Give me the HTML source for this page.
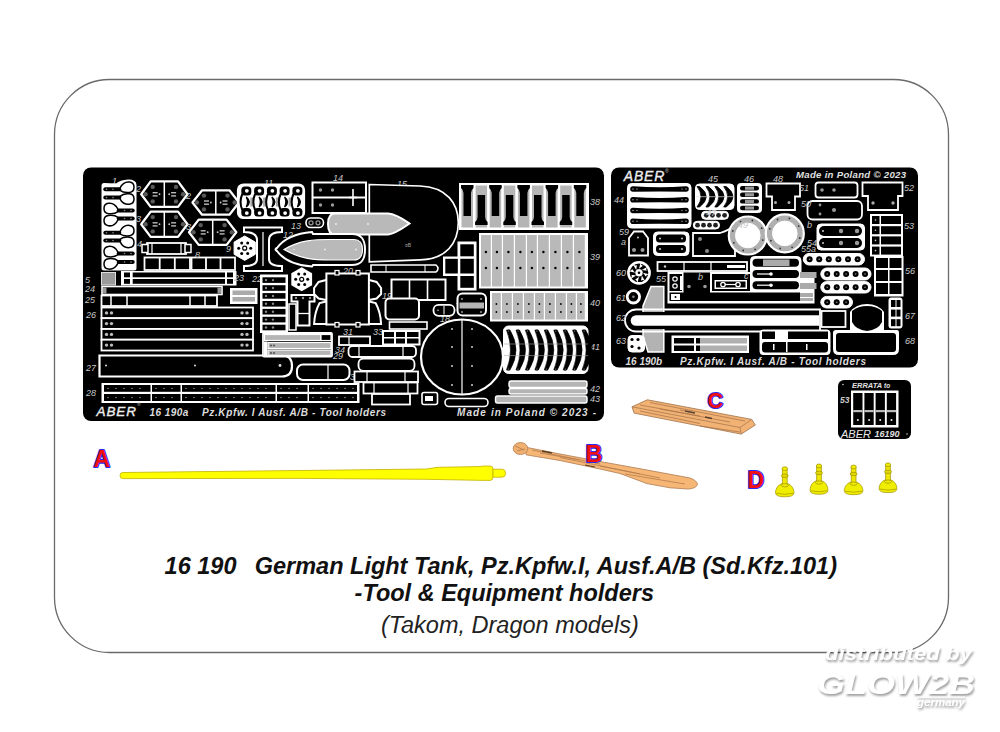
<!DOCTYPE html>
<html><head><meta charset="utf-8">
<style>
html,body{margin:0;padding:0;background:#fff;width:1000px;height:732px;overflow:hidden}
svg{display:block;font-family:"Liberation Sans",sans-serif}
</style></head><body>
<svg width="1000" height="732" viewBox="0 0 1000 732">
<rect width="1000" height="732" fill="#fff"/>
<rect x="54.5" y="79.5" width="894" height="573" rx="55" ry="55" fill="none" stroke="#6a6a6a" stroke-width="1.3"/>
<g id="lp">
<rect x="83" y="167.5" width="521" height="253.5" rx="8" fill="#000"/>
<path d="M104,183 Q101.5,183 101.5,186 L101.5,268 Q101.5,270.5 104,270.5 L134,270.5 Q136.5,270.5 136.5,268 L136.5,185 Q136.5,179.5 128,179.5 Q120,180 116,183.5 Z" fill="#fff"/>
<path d="M120,188.0 C123,181.7 127,181.7 129.5,182.0 C135.5,182.7 135.5,191.7 129.5,192.4 C127,192.7 123,192.7 120,190.4" fill="#fff" stroke="#000" stroke-width="1.5"/>
<rect x="103.3" y="187.2" width="18" height="4" rx="2" fill="#000"/>
<circle cx="106.5" cy="189.2" r="0.8" fill="#888"/><circle cx="113.0" cy="189.2" r="0.8" fill="#888"/>
<path d="M120,196.4 C123,193.5 127,193.5 129.5,193.8 C135.5,194.5 135.5,203.5 129.5,204.2 C127,204.5 123,204.5 120,198.8" fill="#fff" stroke="#000" stroke-width="1.5"/>
<rect x="103.3" y="195.6" width="18" height="4" rx="2" fill="#000"/>
<circle cx="106.5" cy="197.6" r="0.8" fill="#888"/><circle cx="113.0" cy="197.6" r="0.8" fill="#888"/>
<path d="M118,209.3 C115,203.0 111,203.0 108.5,203.3 C102.5,204.0 102.5,213.0 108.5,213.7 C111,214.0 115,214.0 118,211.7" fill="#fff" stroke="#000" stroke-width="1.5"/>
<rect x="116.7" y="208.5" width="18" height="4" rx="2" fill="#000"/>
<circle cx="124.5" cy="210.5" r="0.8" fill="#888"/><circle cx="131.0" cy="210.5" r="0.8" fill="#888"/>
<path d="M118,217.3 C115,215.1 111,215.1 108.5,215.4 C102.5,216.1 102.5,225.1 108.5,225.8 C111,226.1 115,226.1 118,219.7" fill="#fff" stroke="#000" stroke-width="1.5"/>
<rect x="116.7" y="216.5" width="18" height="4" rx="2" fill="#000"/>
<circle cx="124.5" cy="218.5" r="0.8" fill="#888"/><circle cx="131.0" cy="218.5" r="0.8" fill="#888"/>
<path d="M120,231.6 C123,225.1 127,225.1 129.5,225.4 C135.5,226.1 135.5,235.1 129.5,235.8 C127,236.1 123,236.1 120,234.0" fill="#fff" stroke="#000" stroke-width="1.5"/>
<rect x="103.3" y="230.8" width="18" height="4" rx="2" fill="#000"/>
<circle cx="106.5" cy="232.8" r="0.8" fill="#888"/><circle cx="113.0" cy="232.8" r="0.8" fill="#888"/>
<path d="M120,239.3 C123,236.9 127,236.9 129.5,237.2 C135.5,237.9 135.5,246.9 129.5,247.6 C127,247.9 123,247.9 120,241.7" fill="#fff" stroke="#000" stroke-width="1.5"/>
<rect x="103.3" y="238.5" width="18" height="4" rx="2" fill="#000"/>
<circle cx="106.5" cy="240.5" r="0.8" fill="#888"/><circle cx="113.0" cy="240.5" r="0.8" fill="#888"/>
<path d="M118,252.3 C115,246.1 111,246.1 108.5,246.4 C102.5,247.1 102.5,256.1 108.5,256.8 C111,257.1 115,257.1 118,254.7" fill="#fff" stroke="#000" stroke-width="1.5"/>
<rect x="116.7" y="251.5" width="18" height="4" rx="2" fill="#000"/>
<circle cx="124.5" cy="253.5" r="0.8" fill="#888"/><circle cx="131.0" cy="253.5" r="0.8" fill="#888"/>
<path d="M118,260.8 C115,258.4 111,258.4 108.5,258.7 C102.5,259.4 102.5,268.4 108.5,269.1 C111,269.4 115,269.4 118,263.2" fill="#fff" stroke="#000" stroke-width="1.5"/>
<rect x="116.7" y="260.0" width="18" height="4" rx="2" fill="#000"/>
<circle cx="124.5" cy="262.0" r="0.8" fill="#888"/><circle cx="131.0" cy="262.0" r="0.8" fill="#888"/>
<path d="M141.2,194.2 L150.7,181.4 L178.0,181.4 L187.5,194.2 L178.0,206.9 L150.7,206.9 Z" fill="#000" stroke="#fff" stroke-width="2.3" stroke-linejoin="round"/><line x1="164.3" y1="181.3" x2="164.3" y2="207.0" stroke="#fff" stroke-width="1.5"/><circle cx="152.7" cy="186.9" r="2.2" fill="#5a5a5a"/><circle cx="152.7" cy="201.4" r="2.2" fill="#5a5a5a"/><circle cx="145.6" cy="194.2" r="2.2" fill="#5a5a5a"/><rect x="152.6" y="192.0" width="5" height="1.4" fill="#bbb"/><rect x="152.6" y="195.2" width="5" height="1.4" fill="#bbb"/><circle cx="159.5" cy="194.2" r="0.9" fill="#ccc"/><circle cx="176.0" cy="186.9" r="2.2" fill="#5a5a5a"/><circle cx="176.0" cy="201.4" r="2.2" fill="#5a5a5a"/><circle cx="183.1" cy="194.2" r="2.2" fill="#5a5a5a"/><rect x="171.1" y="192.0" width="5" height="1.4" fill="#bbb"/><rect x="171.1" y="195.2" width="5" height="1.4" fill="#bbb"/><circle cx="169.2" cy="194.2" r="0.9" fill="#ccc"/>
<path d="M192.5,202.5 L202.1,190.3 L229.4,190.3 L239.0,202.5 L229.4,214.7 L202.1,214.7 Z" fill="#000" stroke="#fff" stroke-width="2.3" stroke-linejoin="round"/><line x1="215.8" y1="190.2" x2="215.8" y2="214.8" stroke="#fff" stroke-width="1.5"/><circle cx="204.0" cy="195.6" r="2.2" fill="#5a5a5a"/><circle cx="204.0" cy="209.4" r="2.2" fill="#5a5a5a"/><circle cx="196.9" cy="202.5" r="2.2" fill="#5a5a5a"/><rect x="204.0" y="200.3" width="5" height="1.4" fill="#bbb"/><rect x="204.0" y="203.5" width="5" height="1.4" fill="#bbb"/><circle cx="210.9" cy="202.5" r="0.9" fill="#ccc"/><circle cx="227.5" cy="195.6" r="2.2" fill="#5a5a5a"/><circle cx="227.5" cy="209.4" r="2.2" fill="#5a5a5a"/><circle cx="234.6" cy="202.5" r="2.2" fill="#5a5a5a"/><rect x="222.5" y="200.3" width="5" height="1.4" fill="#bbb"/><rect x="222.5" y="203.5" width="5" height="1.4" fill="#bbb"/><circle cx="220.6" cy="202.5" r="0.9" fill="#ccc"/>
<path d="M141.2,224.2 L150.7,211.6 L178.0,211.6 L187.5,224.2 L178.0,236.9 L150.7,236.9 Z" fill="#000" stroke="#fff" stroke-width="2.3" stroke-linejoin="round"/><line x1="164.3" y1="211.5" x2="164.3" y2="237.0" stroke="#fff" stroke-width="1.5"/><circle cx="152.7" cy="217.1" r="2.2" fill="#5a5a5a"/><circle cx="152.7" cy="231.4" r="2.2" fill="#5a5a5a"/><circle cx="145.6" cy="224.2" r="2.2" fill="#5a5a5a"/><rect x="152.6" y="222.1" width="5" height="1.4" fill="#bbb"/><rect x="152.6" y="225.2" width="5" height="1.4" fill="#bbb"/><circle cx="159.5" cy="224.2" r="0.9" fill="#ccc"/><circle cx="176.0" cy="217.1" r="2.2" fill="#5a5a5a"/><circle cx="176.0" cy="231.4" r="2.2" fill="#5a5a5a"/><circle cx="183.1" cy="224.2" r="2.2" fill="#5a5a5a"/><rect x="171.1" y="222.1" width="5" height="1.4" fill="#bbb"/><rect x="171.1" y="225.2" width="5" height="1.4" fill="#bbb"/><circle cx="169.2" cy="224.2" r="0.9" fill="#ccc"/>
<path d="M189.0,232.2 L198.7,219.6 L226.6,219.6 L236.3,232.2 L226.6,244.9 L198.7,244.9 Z" fill="#000" stroke="#fff" stroke-width="2.3" stroke-linejoin="round"/><line x1="212.7" y1="219.5" x2="212.7" y2="245.0" stroke="#fff" stroke-width="1.5"/><circle cx="200.7" cy="225.1" r="2.2" fill="#5a5a5a"/><circle cx="200.7" cy="239.4" r="2.2" fill="#5a5a5a"/><circle cx="193.5" cy="232.2" r="2.2" fill="#5a5a5a"/><rect x="200.7" y="230.1" width="5" height="1.4" fill="#bbb"/><rect x="200.7" y="233.2" width="5" height="1.4" fill="#bbb"/><circle cx="207.7" cy="232.2" r="0.9" fill="#ccc"/><circle cx="224.6" cy="225.1" r="2.2" fill="#5a5a5a"/><circle cx="224.6" cy="239.4" r="2.2" fill="#5a5a5a"/><circle cx="231.8" cy="232.2" r="2.2" fill="#5a5a5a"/><rect x="219.6" y="230.1" width="5" height="1.4" fill="#bbb"/><rect x="219.6" y="233.2" width="5" height="1.4" fill="#bbb"/><circle cx="217.6" cy="232.2" r="0.9" fill="#ccc"/>
<rect x="147.0" y="243.0" width="39.0" height="11.0" rx="0" fill="#000" stroke="#fff" stroke-width="1.8"/>
<rect x="142.0" y="244.5" width="6.0" height="8.0" rx="0" fill="#000" stroke="#fff" stroke-width="1.5"/><rect x="185.0" y="244.5" width="6.0" height="8.0" rx="0" fill="#000" stroke="#fff" stroke-width="1.5"/>
<line x1="152" y1="243" x2="152" y2="254" stroke="#fff" stroke-width="1.2"/><line x1="181" y1="243" x2="181" y2="254" stroke="#fff" stroke-width="1.2"/>
<rect x="144.5" y="257.5" width="45.5" height="12.5" rx="0" fill="#000" stroke="#fff" stroke-width="1.8"/>
<line x1="159.7" y1="257.5" x2="159.7" y2="270" stroke="#fff" stroke-width="1.8"/>
<line x1="174.8" y1="257.5" x2="174.8" y2="270" stroke="#fff" stroke-width="1.8"/>
<rect x="191.5" y="257.5" width="43.5" height="12.5" rx="0" fill="#000" stroke="#fff" stroke-width="1.8"/>
<line x1="206.0" y1="257.5" x2="206.0" y2="270" stroke="#fff" stroke-width="1.8"/>
<line x1="220.5" y1="257.5" x2="220.5" y2="270" stroke="#fff" stroke-width="1.8"/>
<rect x="121.5" y="271.5" width="114.5" height="13.5" rx="0" fill="#fff" stroke="#fff" stroke-width="1"/>
<rect x="124.0" y="272.5" width="6.0" height="4.8" rx="0" fill="#000" stroke="none" stroke-width="1.8"/><rect x="132.7" y="272.5" width="92.3" height="4.8" rx="0" fill="#000" stroke="none" stroke-width="1.8"/><rect x="227.0" y="272.5" width="6.0" height="4.8" rx="0" fill="#000" stroke="none" stroke-width="1.8"/>
<rect x="124.0" y="279.0" width="6.0" height="4.8" rx="0" fill="#000" stroke="none" stroke-width="1.8"/><rect x="132.7" y="279.0" width="92.3" height="4.8" rx="0" fill="#000" stroke="none" stroke-width="1.8"/><rect x="227.0" y="279.0" width="6.0" height="4.8" rx="0" fill="#000" stroke="none" stroke-width="1.8"/>
<rect x="101.5" y="272.5" width="14.0" height="12.5" rx="0" fill="#9a9a9a" stroke="#ddd" stroke-width="1"/>
<rect x="102.0" y="286.5" width="120.0" height="8.0" rx="0" fill="#000" stroke="#fff" stroke-width="1.6"/>
<rect x="103.0" y="287.5" width="3.5" height="6.0" rx="0" fill="#999" stroke="none" stroke-width="1.8"/><rect x="217.5" y="287.5" width="3.5" height="6.0" rx="0" fill="#999" stroke="none" stroke-width="1.8"/>
<rect x="230.5" y="288.5" width="26.5" height="15.0" rx="0" fill="#fff" stroke="#fff" stroke-width="1"/>
<rect x="232.5" y="290.5" width="22.5" height="4.5" rx="0" fill="#aaa" stroke="none" stroke-width="1.8"/><rect x="232.5" y="297.0" width="22.5" height="4.5" rx="0" fill="#aaa" stroke="none" stroke-width="1.8"/>
<rect x="101.5" y="295.5" width="115.5" height="10.5" rx="0" fill="#000" stroke="#fff" stroke-width="1.8"/>
<line x1="111" y1="296" x2="111" y2="306" stroke="#fff" stroke-width="1.5"/>
<line x1="127" y1="296" x2="127" y2="306" stroke="#fff" stroke-width="1.5"/>
<line x1="190" y1="296" x2="190" y2="306" stroke="#fff" stroke-width="1.5"/>
<line x1="205" y1="296" x2="205" y2="306" stroke="#fff" stroke-width="1.5"/>
<rect x="101.5" y="307.5" width="151.5" height="10.7" rx="0" fill="#000" stroke="#fff" stroke-width="1.8"/>
<circle cx="106.5" cy="312.9" r="1.7" fill="#bbb"/><circle cx="111.5" cy="312.9" r="1.7" fill="#bbb"/><circle cx="242.0" cy="312.9" r="1.7" fill="#bbb"/><circle cx="247.0" cy="312.9" r="1.7" fill="#bbb"/>
<rect x="101.5" y="318.2" width="151.5" height="10.8" rx="0" fill="#000" stroke="#fff" stroke-width="1.8"/>
<circle cx="106.5" cy="323.6" r="1.7" fill="#bbb"/><circle cx="111.5" cy="323.6" r="1.7" fill="#bbb"/><circle cx="242.0" cy="323.6" r="1.7" fill="#bbb"/><circle cx="247.0" cy="323.6" r="1.7" fill="#bbb"/>
<rect x="101.5" y="329.0" width="151.5" height="10.7" rx="0" fill="#000" stroke="#fff" stroke-width="1.8"/>
<circle cx="106.5" cy="334.4" r="1.7" fill="#bbb"/><circle cx="111.5" cy="334.4" r="1.7" fill="#bbb"/><circle cx="242.0" cy="334.4" r="1.7" fill="#bbb"/><circle cx="247.0" cy="334.4" r="1.7" fill="#bbb"/>
<rect x="101.5" y="339.7" width="151.5" height="10.8" rx="0" fill="#000" stroke="#fff" stroke-width="1.8"/>
<circle cx="106.5" cy="345.1" r="1.7" fill="#bbb"/><circle cx="111.5" cy="345.1" r="1.7" fill="#bbb"/><circle cx="242.0" cy="345.1" r="1.7" fill="#bbb"/><circle cx="247.0" cy="345.1" r="1.7" fill="#bbb"/>
<path d="M99.5,355.5 L282,355.5 Q292,355.5 292,366 Q292,376.5 282,376.5 L99.5,376.5 Z" fill="#000" stroke="#fff" stroke-width="2.2"/>
<circle cx="106.0" cy="365.5" r="1" fill="#ddd"/><circle cx="195.0" cy="365.5" r="1" fill="#ddd"/><circle cx="280.0" cy="365.5" r="1.4" fill="#ddd"/>
<rect x="102.0" y="383.5" width="257.0" height="19.0" rx="0" fill="#fff" stroke="#fff" stroke-width="1"/>
<rect x="104.0" y="385.0" width="46.5" height="6.8" rx="0" fill="#000" stroke="none" stroke-width="1.8"/>
<circle cx="108.0" cy="388.4" r="0.7" fill="#aaa"/>
<circle cx="116.0" cy="388.4" r="0.7" fill="#aaa"/>
<circle cx="124.0" cy="388.4" r="0.7" fill="#aaa"/>
<circle cx="132.0" cy="388.4" r="0.7" fill="#aaa"/>
<circle cx="140.0" cy="388.4" r="0.7" fill="#aaa"/>
<rect x="152.0" y="385.0" width="28.5" height="6.8" rx="0" fill="#000" stroke="none" stroke-width="1.8"/>
<circle cx="156.0" cy="388.4" r="0.7" fill="#aaa"/>
<circle cx="164.0" cy="388.4" r="0.7" fill="#aaa"/>
<circle cx="172.0" cy="388.4" r="0.7" fill="#aaa"/>
<rect x="182.0" y="385.0" width="93.5" height="6.8" rx="0" fill="#000" stroke="none" stroke-width="1.8"/>
<circle cx="186.0" cy="388.4" r="0.7" fill="#aaa"/>
<circle cx="194.0" cy="388.4" r="0.7" fill="#aaa"/>
<circle cx="202.0" cy="388.4" r="0.7" fill="#aaa"/>
<circle cx="210.0" cy="388.4" r="0.7" fill="#aaa"/>
<circle cx="218.0" cy="388.4" r="0.7" fill="#aaa"/>
<circle cx="226.0" cy="388.4" r="0.7" fill="#aaa"/>
<circle cx="234.0" cy="388.4" r="0.7" fill="#aaa"/>
<circle cx="242.0" cy="388.4" r="0.7" fill="#aaa"/>
<circle cx="250.0" cy="388.4" r="0.7" fill="#aaa"/>
<circle cx="258.0" cy="388.4" r="0.7" fill="#aaa"/>
<circle cx="266.0" cy="388.4" r="0.7" fill="#aaa"/>
<rect x="277.0" y="385.0" width="30.5" height="6.8" rx="0" fill="#000" stroke="none" stroke-width="1.8"/>
<circle cx="281.0" cy="388.4" r="0.7" fill="#aaa"/>
<circle cx="289.0" cy="388.4" r="0.7" fill="#aaa"/>
<circle cx="297.0" cy="388.4" r="0.7" fill="#aaa"/>
<rect x="309.0" y="385.0" width="48.0" height="6.8" rx="0" fill="#000" stroke="none" stroke-width="1.8"/>
<circle cx="313.0" cy="388.4" r="0.7" fill="#aaa"/>
<circle cx="321.0" cy="388.4" r="0.7" fill="#aaa"/>
<circle cx="329.0" cy="388.4" r="0.7" fill="#aaa"/>
<circle cx="337.0" cy="388.4" r="0.7" fill="#aaa"/>
<circle cx="345.0" cy="388.4" r="0.7" fill="#aaa"/>
<circle cx="353.0" cy="388.4" r="0.7" fill="#aaa"/>
<rect x="104.0" y="394.0" width="46.5" height="7.0" rx="0" fill="#000" stroke="none" stroke-width="1.8"/>
<circle cx="108.0" cy="397.5" r="0.7" fill="#aaa"/>
<circle cx="116.0" cy="397.5" r="0.7" fill="#aaa"/>
<circle cx="124.0" cy="397.5" r="0.7" fill="#aaa"/>
<circle cx="132.0" cy="397.5" r="0.7" fill="#aaa"/>
<circle cx="140.0" cy="397.5" r="0.7" fill="#aaa"/>
<rect x="152.0" y="394.0" width="28.5" height="7.0" rx="0" fill="#000" stroke="none" stroke-width="1.8"/>
<circle cx="156.0" cy="397.5" r="0.7" fill="#aaa"/>
<circle cx="164.0" cy="397.5" r="0.7" fill="#aaa"/>
<circle cx="172.0" cy="397.5" r="0.7" fill="#aaa"/>
<rect x="182.0" y="394.0" width="93.5" height="7.0" rx="0" fill="#000" stroke="none" stroke-width="1.8"/>
<circle cx="186.0" cy="397.5" r="0.7" fill="#aaa"/>
<circle cx="194.0" cy="397.5" r="0.7" fill="#aaa"/>
<circle cx="202.0" cy="397.5" r="0.7" fill="#aaa"/>
<circle cx="210.0" cy="397.5" r="0.7" fill="#aaa"/>
<circle cx="218.0" cy="397.5" r="0.7" fill="#aaa"/>
<circle cx="226.0" cy="397.5" r="0.7" fill="#aaa"/>
<circle cx="234.0" cy="397.5" r="0.7" fill="#aaa"/>
<circle cx="242.0" cy="397.5" r="0.7" fill="#aaa"/>
<circle cx="250.0" cy="397.5" r="0.7" fill="#aaa"/>
<circle cx="258.0" cy="397.5" r="0.7" fill="#aaa"/>
<circle cx="266.0" cy="397.5" r="0.7" fill="#aaa"/>
<rect x="277.0" y="394.0" width="30.5" height="7.0" rx="0" fill="#000" stroke="none" stroke-width="1.8"/>
<circle cx="281.0" cy="397.5" r="0.7" fill="#aaa"/>
<circle cx="289.0" cy="397.5" r="0.7" fill="#aaa"/>
<circle cx="297.0" cy="397.5" r="0.7" fill="#aaa"/>
<rect x="309.0" y="394.0" width="48.0" height="7.0" rx="0" fill="#000" stroke="none" stroke-width="1.8"/>
<circle cx="313.0" cy="397.5" r="0.7" fill="#aaa"/>
<circle cx="321.0" cy="397.5" r="0.7" fill="#aaa"/>
<circle cx="329.0" cy="397.5" r="0.7" fill="#aaa"/>
<circle cx="337.0" cy="397.5" r="0.7" fill="#aaa"/>
<circle cx="345.0" cy="397.5" r="0.7" fill="#aaa"/>
<circle cx="353.0" cy="397.5" r="0.7" fill="#aaa"/>
<text x="96.5" y="416.0" font-size="13.5" fill="#eee" text-anchor="start" font-style="italic" stroke="#eee" stroke-width="0.35" textLength="39.5">ABER</text>
<text x="137.0" y="406.0" font-size="5" fill="#ccc" text-anchor="start" >®</text>
<text x="149.4" y="415.5" font-size="10" fill="#ddd" text-anchor="start" font-weight="bold" font-style="italic" textLength="39">16 190a</text>
<text x="202.0" y="415.5" font-size="10" fill="#ddd" text-anchor="start" font-weight="bold" font-style="italic" textLength="184">Pz.Kpfw. I Ausf. A/B - Tool holders</text>
<text x="457.0" y="416.0" font-size="10" fill="#ddd" text-anchor="start" font-weight="bold" font-style="italic" textLength="139">Made in Poland  ©  2023  -</text>
<text x="112.0" y="183.5" font-size="9" fill="#c8c8c8" text-anchor="start" font-style="italic">1</text>
<text x="136.0" y="191.5" font-size="9" fill="#c8c8c8" text-anchor="start" font-style="italic">2</text>
<text x="136.0" y="221.5" font-size="9" fill="#c8c8c8" text-anchor="start" font-style="italic">3</text>
<text x="186.0" y="198.5" font-size="9" fill="#c8c8c8" text-anchor="start" font-style="italic">2</text>
<text x="186.0" y="229.5" font-size="9" fill="#c8c8c8" text-anchor="start" font-style="italic">3</text>
<text x="137.0" y="246.5" font-size="9" fill="#c8c8c8" text-anchor="start" font-style="italic">4</text>
<text x="85.0" y="282.5" font-size="9" fill="#c8c8c8" text-anchor="start" font-style="italic">5</text>
<text x="85.0" y="291.5" font-size="9" fill="#c8c8c8" text-anchor="start" font-style="italic">24</text>
<text x="85.0" y="302.5" font-size="9" fill="#c8c8c8" text-anchor="start" font-style="italic">25</text>
<text x="86.0" y="317.5" font-size="9" fill="#c8c8c8" text-anchor="start" font-style="italic">26</text>
<text x="86.0" y="370.5" font-size="9" fill="#c8c8c8" text-anchor="start" font-style="italic">27</text>
<text x="86.0" y="395.5" font-size="9" fill="#c8c8c8" text-anchor="start" font-style="italic">28</text>
<text x="195.0" y="257.5" font-size="9" fill="#c8c8c8" text-anchor="start" font-style="italic">8</text>
<text x="226.0" y="251.5" font-size="9" fill="#c8c8c8" text-anchor="start" font-style="italic">9</text>
<text x="264.0" y="185.5" font-size="9" fill="#c8c8c8" text-anchor="start" font-style="italic">11</text>
<text x="269.0" y="205.5" font-size="9" fill="#c8c8c8" text-anchor="start" font-style="italic">10</text>
<text x="283.0" y="237.5" font-size="9" fill="#c8c8c8" text-anchor="start" font-style="italic">12</text>
<text x="291.0" y="228.5" font-size="9" fill="#c8c8c8" text-anchor="start" font-style="italic">13</text>
<text x="333.0" y="180.5" font-size="9" fill="#c8c8c8" text-anchor="start" font-style="italic">14</text>
<text x="397.0" y="186.5" font-size="9" fill="#c8c8c8" text-anchor="start" font-style="italic">15</text>
<text x="460.0" y="247.5" font-size="9" fill="#c8c8c8" text-anchor="start" font-style="italic">16</text>
<text x="456.0" y="303.5" font-size="9" fill="#c8c8c8" text-anchor="start" font-style="italic">17</text>
<text x="440.0" y="321.5" font-size="9" fill="#c8c8c8" text-anchor="start" font-style="italic">18</text>
<text x="382.0" y="298.5" font-size="9" fill="#c8c8c8" text-anchor="start" font-style="italic">19</text>
<text x="343.0" y="273.5" font-size="9" fill="#c8c8c8" text-anchor="start" font-style="italic">20</text>
<text x="293.0" y="312.5" font-size="9" fill="#c8c8c8" text-anchor="start" font-style="italic">21</text>
<text x="252.0" y="281.5" font-size="9" fill="#c8c8c8" text-anchor="start" font-style="italic">22</text>
<text x="234.0" y="280.5" font-size="9" fill="#c8c8c8" text-anchor="start" font-style="italic">23</text>
<text x="335.0" y="352.5" font-size="9" fill="#c8c8c8" text-anchor="start" font-style="italic">34</text>
<text x="590.0" y="204.5" font-size="9" fill="#c8c8c8" text-anchor="start" font-style="italic">38</text>
<text x="590.0" y="259.5" font-size="9" fill="#c8c8c8" text-anchor="start" font-style="italic">39</text>
<text x="590.0" y="305.5" font-size="9" fill="#c8c8c8" text-anchor="start" font-style="italic">40</text>
<text x="590.0" y="349.5" font-size="9" fill="#c8c8c8" text-anchor="start" font-style="italic">41</text>
<text x="590.0" y="391.5" font-size="9" fill="#c8c8c8" text-anchor="start" font-style="italic">42</text>
<text x="590.0" y="401.5" font-size="9" fill="#c8c8c8" text-anchor="start" font-style="italic">43</text>
<text x="373.0" y="334.5" font-size="9" fill="#c8c8c8" text-anchor="start" font-style="italic">33</text>
<text x="343.0" y="334.5" font-size="9" fill="#c8c8c8" text-anchor="start" font-style="italic">31</text>
<text x="333.0" y="358.5" font-size="9" fill="#c8c8c8" text-anchor="start" font-style="italic">29</text>
<text x="350.0" y="379.5" font-size="9" fill="#c8c8c8" text-anchor="start" font-style="italic">35</text>
<rect x="237.5" y="184.0" width="67.0" height="34.5" rx="6" fill="#fff" stroke="#fff" stroke-width="1.2"/>
<rect x="241.3" y="186.5" width="10.0" height="9.0" rx="3.5" fill="#000" stroke="none" stroke-width="1.8"/><rect x="241.3" y="208.0" width="10.0" height="8.5" rx="3.5" fill="#000" stroke="none" stroke-width="1.8"/>
<path d="M242.3,194 Q238.8,202 242.3,210" fill="none" stroke="#000" stroke-width="2"/>
<rect x="250.3" y="197.5" width="3.5" height="9.0" rx="0" fill="#a8a8a8" stroke="none" stroke-width="1.8"/>
<path d="M246.3,197 Q252.3,202 246.3,207 Q248.8,202 246.3,197 Z" fill="#000" stroke="#000" stroke-width="1.3"/>
<circle cx="246.8" cy="190.8" r="1.9" fill="#fff"/><circle cx="246.8" cy="213.1" r="1.9" fill="#fff"/>
<rect x="254.1" y="186.5" width="10.0" height="9.0" rx="3.5" fill="#000" stroke="none" stroke-width="1.8"/><rect x="254.1" y="208.0" width="10.0" height="8.5" rx="3.5" fill="#000" stroke="none" stroke-width="1.8"/>
<path d="M255.1,194 Q251.6,202 255.1,210" fill="none" stroke="#000" stroke-width="2"/>
<rect x="263.1" y="197.5" width="3.5" height="9.0" rx="0" fill="#a8a8a8" stroke="none" stroke-width="1.8"/>
<path d="M259.1,197 Q265.1,202 259.1,207 Q261.6,202 259.1,197 Z" fill="#000" stroke="#000" stroke-width="1.3"/>
<circle cx="259.6" cy="190.8" r="1.9" fill="#fff"/><circle cx="259.6" cy="213.1" r="1.9" fill="#fff"/>
<rect x="266.9" y="186.5" width="10.0" height="9.0" rx="3.5" fill="#000" stroke="none" stroke-width="1.8"/><rect x="266.9" y="208.0" width="10.0" height="8.5" rx="3.5" fill="#000" stroke="none" stroke-width="1.8"/>
<path d="M267.9,194 Q264.4,202 267.9,210" fill="none" stroke="#000" stroke-width="2"/>
<rect x="275.9" y="197.5" width="3.5" height="9.0" rx="0" fill="#a8a8a8" stroke="none" stroke-width="1.8"/>
<path d="M271.9,197 Q277.9,202 271.9,207 Q274.4,202 271.9,197 Z" fill="#000" stroke="#000" stroke-width="1.3"/>
<circle cx="272.4" cy="190.8" r="1.9" fill="#fff"/><circle cx="272.4" cy="213.1" r="1.9" fill="#fff"/>
<rect x="279.6" y="186.5" width="10.0" height="9.0" rx="3.5" fill="#000" stroke="none" stroke-width="1.8"/><rect x="279.6" y="208.0" width="10.0" height="8.5" rx="3.5" fill="#000" stroke="none" stroke-width="1.8"/>
<path d="M280.6,194 Q277.1,202 280.6,210" fill="none" stroke="#000" stroke-width="2"/>
<rect x="288.6" y="197.5" width="3.5" height="9.0" rx="0" fill="#a8a8a8" stroke="none" stroke-width="1.8"/>
<path d="M284.6,197 Q290.6,202 284.6,207 Q287.1,202 284.6,197 Z" fill="#000" stroke="#000" stroke-width="1.3"/>
<circle cx="285.1" cy="190.8" r="1.9" fill="#fff"/><circle cx="285.1" cy="213.1" r="1.9" fill="#fff"/>
<rect x="292.4" y="186.5" width="10.0" height="9.0" rx="3.5" fill="#000" stroke="none" stroke-width="1.8"/><rect x="292.4" y="208.0" width="10.0" height="8.5" rx="3.5" fill="#000" stroke="none" stroke-width="1.8"/>
<path d="M293.4,194 Q289.9,202 293.4,210" fill="none" stroke="#000" stroke-width="2"/>
<path d="M297.4,197 Q303.4,202 297.4,207 Q299.9,202 297.4,197 Z" fill="#000" stroke="#000" stroke-width="1.3"/>
<circle cx="297.9" cy="190.8" r="1.9" fill="#fff"/><circle cx="297.9" cy="213.1" r="1.9" fill="#fff"/>
<rect x="312.5" y="182.5" width="53.5" height="30.5" rx="0" fill="#000" stroke="#fff" stroke-width="2"/>
<line x1="313" y1="197.5" x2="366" y2="197.5" stroke="#fff" stroke-width="1.8"/>
<line x1="353" y1="189" x2="353" y2="206" stroke="#fff" stroke-width="1.6"/><line x1="349" y1="197.5" x2="357" y2="197.5" stroke="#fff" stroke-width="1.6"/>
<circle cx="320.5" cy="190.0" r="1.7" fill="#999"/><circle cx="332.5" cy="190.0" r="1.7" fill="#999"/><circle cx="320.5" cy="205.0" r="1.7" fill="#999"/><circle cx="332.5" cy="205.0" r="1.7" fill="#999"/>
<path d="M369.3,184.5 L420,186 C447,187 458.3,204 458.3,222.5 C458.3,243 446,259.5 420,259.8 L369.3,261.8 Z" fill="#000" stroke="#fff" stroke-width="1.7"/>
<text x="405.0" y="247.0" font-size="5" fill="#aaa" text-anchor="start" >¤B</text>
<path d="M335,213.5 L388,213.5 C396,214 403,219 409.5,223.5 C403,228 396,233.5 388,234.5 L335,234.5 C330,234.5 328,230 328,224 C328,218 330,213.5 335,213.5 Z" fill="#b9b9b9" stroke="#fff" stroke-width="2"/>
<circle cx="336.0" cy="224.0" r="0.9" fill="#eee"/><circle cx="368.0" cy="224.0" r="0.9" fill="#eee"/>
<path d="M371,265 L436,265 Q440,268.5 436,272 L371,272 Z" fill="#000" stroke="#fff" stroke-width="1.6"/>
<line x1="386" y1="265" x2="386" y2="272" stroke="#fff" stroke-width="1"/><line x1="425" y1="265" x2="425" y2="272" stroke="#fff" stroke-width="1"/>
<rect x="306.0" y="218.0" width="17.5" height="9.5" rx="4.5" fill="#000" stroke="#fff" stroke-width="1.6"/><circle cx="311.0" cy="222.8" r="2" fill="#000" stroke="#999" stroke-width="1.2"/><circle cx="318.0" cy="222.8" r="2" fill="#000" stroke="#999" stroke-width="1.2"/>
<path d="M243,227.5 L262,227.5 L262,229 Q256,232 256,236 L256,262 Q256,266 262,269 L262,271 L243,271 M264,227.5 L283,227.5 M264,271 L283,271" fill="none" stroke="#fff" stroke-width="0"/>
<path d="M244,227.5 L282,227.5 L282,232 Q269,232 269,240 L269,259 Q269,266 282,266 L282,271 L244,271 L244,266 Q257,266 257,259 L257,240 Q257,232 244,232 Z" fill="#000" stroke="#fff" stroke-width="2"/>
<line x1="263" y1="232" x2="263" y2="266" stroke="#fff" stroke-width="1.2"/>
<polygon points="244.7,260.4 234.1,254.3 234.1,242.1 244.7,236.0 255.3,242.1 255.3,254.3" fill="#fff" stroke="#fff" stroke-width="1" stroke-linejoin="round"/>
<circle cx="250.7" cy="248.2" r="1.5" fill="#000"/>
<circle cx="247.7" cy="253.4" r="1.5" fill="#000"/>
<circle cx="241.7" cy="253.4" r="1.5" fill="#000"/>
<circle cx="238.7" cy="248.2" r="1.5" fill="#000"/>
<circle cx="241.7" cy="243.0" r="1.5" fill="#000"/>
<circle cx="247.7" cy="243.0" r="1.5" fill="#000"/>
<circle cx="244.7" cy="248.2" r="2" fill="#fff" stroke="#000" stroke-width="1.2"/>
<path d="M312,232 L313,234 L352,234 C362,234 365,240 365,249.5 C365,259 362,265 352,265 L313,265 L312,266.5 C300,266 285,262 277,251 Q274,249.5 277,248 C285,237 300,233 312,232 Z" fill="#000" stroke="#fff" stroke-width="2"/>
<path d="M284,249.5 C300,240 315,239.5 330,239.5 L354,239.5 C360,239.5 362.5,244 362.5,249.5 C362.5,255 360,260 354,260 L330,260 C315,260 300,259 284,249.5 Z" fill="#b9b9b9" stroke="#fff" stroke-width="1.2"/>
<circle cx="325.0" cy="249.5" r="0.9" fill="#eee"/><circle cx="356.0" cy="249.5" r="0.9" fill="#eee"/><circle cx="294.0" cy="249.5" r="0.7" fill="#eee"/>
<polygon points="301.7,291.3 291.3,285.3 291.3,273.3 301.7,267.3 312.1,273.3 312.1,285.3" fill="#fff"/>
<circle cx="307.7" cy="279.3" r="1.5" fill="#000"/>
<circle cx="304.7" cy="284.5" r="1.5" fill="#000"/>
<circle cx="298.7" cy="284.5" r="1.5" fill="#000"/>
<circle cx="295.7" cy="279.3" r="1.5" fill="#000"/>
<circle cx="298.7" cy="274.1" r="1.5" fill="#000"/>
<circle cx="304.7" cy="274.1" r="1.5" fill="#000"/>
<circle cx="301.7" cy="279.3" r="2" fill="#fff" stroke="#000" stroke-width="1.2"/>
<rect x="260.5" y="275.0" width="27.0" height="57.5" rx="0" fill="#fff" stroke="#fff" stroke-width="1"/>
<rect x="262.5" y="277.3" width="23.0" height="5.6" rx="0" fill="#000" stroke="none" stroke-width="1.8"/>
<circle cx="266.0" cy="280.1" r="1.2" fill="#888"/><circle cx="273.0" cy="280.1" r="1.2" fill="#888"/>
<rect x="262.5" y="285.2" width="23.0" height="5.6" rx="0" fill="#000" stroke="none" stroke-width="1.8"/>
<circle cx="266.0" cy="288.0" r="1.2" fill="#888"/><circle cx="273.0" cy="288.0" r="1.2" fill="#888"/>
<rect x="262.5" y="293.1" width="23.0" height="5.6" rx="0" fill="#000" stroke="none" stroke-width="1.8"/>
<circle cx="266.0" cy="295.9" r="1.2" fill="#888"/><circle cx="273.0" cy="295.9" r="1.2" fill="#888"/>
<rect x="262.5" y="301.0" width="23.0" height="5.6" rx="0" fill="#000" stroke="none" stroke-width="1.8"/>
<circle cx="266.0" cy="303.8" r="1.2" fill="#888"/><circle cx="273.0" cy="303.8" r="1.2" fill="#888"/>
<rect x="262.5" y="308.9" width="23.0" height="5.6" rx="0" fill="#000" stroke="none" stroke-width="1.8"/>
<circle cx="266.0" cy="311.7" r="1.2" fill="#888"/><circle cx="273.0" cy="311.7" r="1.2" fill="#888"/>
<rect x="262.5" y="316.8" width="23.0" height="5.6" rx="0" fill="#000" stroke="none" stroke-width="1.8"/>
<circle cx="266.0" cy="319.6" r="1.2" fill="#888"/><circle cx="273.0" cy="319.6" r="1.2" fill="#888"/>
<rect x="262.5" y="324.7" width="23.0" height="5.6" rx="0" fill="#000" stroke="none" stroke-width="1.8"/>
<circle cx="266.0" cy="327.5" r="1.2" fill="#888"/><circle cx="273.0" cy="327.5" r="1.2" fill="#888"/>
<path d="M291.5,295 L314.5,295 L314.5,301.5 L309.5,301.5 L309.5,325.5 L297.5,325.5 L297.5,301.5 L291.5,301.5 Z" fill="#000" stroke="#fff" stroke-width="2"/>
<line x1="298" y1="313.5" x2="309" y2="313.5" stroke="#fff" stroke-width="1.3"/>
<circle cx="296.0" cy="298.0" r="1.2" fill="#999"/><circle cx="303.0" cy="298.0" r="1.2" fill="#999"/><circle cx="310.0" cy="298.0" r="1.2" fill="#999"/>
<rect x="289.0" y="304.0" width="7.0" height="26.0" rx="0" fill="#000" stroke="#fff" stroke-width="1.5"/>
<path d="M326.1,280 L318.6,282 L314.1,288 L314.1,294 L318.6,298.5 L326.1,300" fill="#000" stroke="#fff" stroke-width="2"/>
<path d="M326.1,301.5 L319.6,303 Q314.6,312 314.1,324 L326.1,324" fill="#000" stroke="#fff" stroke-width="2"/>
<path d="M369.1,280 L376.6,282 L381.1,288 L381.1,294 L376.6,298.5 L369.1,300" fill="#000" stroke="#fff" stroke-width="2"/>
<path d="M369.1,301.5 L375.6,303 Q380.6,312 381.1,324 L369.1,324" fill="#000" stroke="#fff" stroke-width="2"/>
<rect x="326.4" y="273.5" width="42.5" height="51.0" rx="0" fill="#000" stroke="#fff" stroke-width="2"/>
<rect x="335.0" y="270.5" width="4.0" height="4.5" rx="0" fill="#000" stroke="#fff" stroke-width="1.2"/><rect x="335.0" y="322.5" width="4.0" height="4.5" rx="0" fill="#000" stroke="#fff" stroke-width="1.2"/>
<rect x="356.0" y="270.5" width="4.0" height="4.5" rx="0" fill="#000" stroke="#fff" stroke-width="1.2"/><rect x="356.0" y="322.5" width="4.0" height="4.5" rx="0" fill="#000" stroke="#fff" stroke-width="1.2"/>
<rect x="263.0" y="333.0" width="69.0" height="23.5" rx="1" fill="#000" stroke="#fff" stroke-width="1.8"/>
<rect x="264.5" y="334.5" width="56.5" height="6.0" rx="0" fill="#b5b5b5" stroke="#fff" stroke-width="1.2"/><rect x="321.0" y="334.5" width="10.0" height="6.0" rx="0" fill="#000" stroke="#fff" stroke-width="1.2"/>
<rect x="268.0" y="342.5" width="63.0" height="6.0" rx="0" fill="#b5b5b5" stroke="#fff" stroke-width="1.2"/><rect x="268.0" y="350.0" width="63.0" height="5.5" rx="0" fill="#b5b5b5" stroke="#fff" stroke-width="1.2"/>
<rect x="264.0" y="341.5" width="3.5" height="14.5" rx="0" fill="#fff" stroke="none" stroke-width="1.8"/>
<circle cx="271.0" cy="345.5" r="0.9" fill="#444"/><circle cx="274.0" cy="345.5" r="0.9" fill="#444"/><circle cx="271.0" cy="353.0" r="0.9" fill="#444"/><circle cx="274.0" cy="353.0" r="0.9" fill="#444"/>
<rect x="297.0" y="364.5" width="52.5" height="15.5" rx="6" fill="#000" stroke="#fff" stroke-width="2"/><line x1="328" y1="365" x2="328" y2="380" stroke="#fff" stroke-width="1.2"/>
<rect x="339.0" y="336.5" width="31.0" height="8.5" rx="0" fill="#000" stroke="#fff" stroke-width="1.8"/><line x1="349" y1="337" x2="349" y2="345" stroke="#fff" stroke-width="1.2"/>
<rect x="382.5" y="330.5" width="37.5" height="14.5" rx="0" fill="#fff" stroke="#fff" stroke-width="1"/>
<rect x="384.0" y="332.0" width="10.0" height="5.0" rx="0" fill="#000" stroke="none" stroke-width="1.8"/><rect x="384.0" y="338.5" width="10.0" height="5.0" rx="0" fill="#000" stroke="none" stroke-width="1.8"/>
<rect x="396.0" y="332.0" width="9.0" height="5.0" rx="0" fill="#000" stroke="none" stroke-width="1.8"/><rect x="396.0" y="338.5" width="9.0" height="5.0" rx="0" fill="#000" stroke="none" stroke-width="1.8"/>
<rect x="407.0" y="332.0" width="11.5" height="5.0" rx="0" fill="#000" stroke="none" stroke-width="1.8"/><rect x="407.0" y="338.5" width="11.5" height="5.0" rx="0" fill="#000" stroke="none" stroke-width="1.8"/>
<rect x="389.5" y="322.0" width="37.5" height="7.0" rx="0" fill="#000" stroke="#fff" stroke-width="1.6"/>
<rect x="348.5" y="346.0" width="67.5" height="11.0" rx="4" fill="#000" stroke="#fff" stroke-width="1.8"/><line x1="359" y1="346" x2="359" y2="357" stroke="#fff" stroke-width="1.2"/><line x1="403" y1="346" x2="403" y2="357" stroke="#fff" stroke-width="1.2"/>
<rect x="358.5" y="358.5" width="56.0" height="12.5" rx="5" fill="#000" stroke="#fff" stroke-width="1.8"/>
<rect x="354.5" y="371.5" width="63.5" height="10.5" rx="0" fill="#000" stroke="#fff" stroke-width="1.8"/><line x1="367" y1="371.5" x2="367" y2="382" stroke="#fff" stroke-width="1.2"/><line x1="405" y1="371.5" x2="405" y2="382" stroke="#fff" stroke-width="1.2"/>
<rect x="363.5" y="382.5" width="54.0" height="11.0" rx="0" fill="#000" stroke="#fff" stroke-width="1.8"/><line x1="374" y1="382.5" x2="374" y2="393.5" stroke="#fff" stroke-width="1.2"/><line x1="408" y1="382.5" x2="408" y2="393.5" stroke="#fff" stroke-width="1.2"/>
<rect x="372.0" y="394.0" width="38.0" height="10.5" rx="0" fill="#000" stroke="#fff" stroke-width="1.8"/>
<rect x="422.0" y="392.5" width="15.5" height="12.0" rx="2" fill="#000" stroke="#fff" stroke-width="1.6"/><rect x="425.0" y="396.0" width="8.0" height="5.0" rx="0" fill="#fff" stroke="none" stroke-width="1.8"/>
<rect x="391.5" y="279.5" width="54.0" height="20.5" rx="0" fill="#000" stroke="#fff" stroke-width="2"/><line x1="409.5" y1="279" x2="409.5" y2="300" stroke="#fff" stroke-width="1.6"/><line x1="427.5" y1="279" x2="427.5" y2="300" stroke="#fff" stroke-width="1.6"/>
<rect x="385.5" y="298.5" width="33.5" height="21.0" rx="4" fill="#000" stroke="#fff" stroke-width="2"/>
<rect x="433.5" y="304.8" width="21.0" height="11.0" rx="5" fill="#000" stroke="#fff" stroke-width="1.8"/><line x1="444" y1="306" x2="444" y2="314.5" stroke="#aaa" stroke-width="1.5"/><circle cx="438.0" cy="310.3" r="0.8" fill="#ccc"/>
<rect x="457.5" y="293.5" width="28.5" height="22.0" rx="5" fill="#000" stroke="#fff" stroke-width="2"/>
<rect x="459.5" y="302.5" width="24.5" height="6.0" rx="0" fill="#b5b5b5" stroke="none" stroke-width="1.8"/>
<circle cx="462.0" cy="299.0" r="0.9" fill="#aaa"/><circle cx="481.0" cy="299.0" r="0.9" fill="#aaa"/><circle cx="462.0" cy="312.0" r="0.9" fill="#aaa"/><circle cx="481.0" cy="312.0" r="0.9" fill="#aaa"/>
<rect x="458.0" y="242.0" width="18.0" height="48.0" rx="0" fill="#fff" stroke="#fff" stroke-width="1"/><rect x="443.0" y="256.5" width="16.0" height="19.5" rx="0" fill="#fff" stroke="none" stroke-width="1.8"/>
<rect x="460.3" y="244.3" width="13.5" height="12.0" rx="0" fill="#000" stroke="none" stroke-width="1.8"/>
<rect x="460.3" y="258.8" width="13.5" height="14.7" rx="0" fill="#000" stroke="none" stroke-width="1.8"/>
<rect x="445.3" y="258.8" width="12.5" height="14.7" rx="0" fill="#000" stroke="none" stroke-width="1.8"/>
<rect x="460.3" y="276.0" width="13.5" height="11.8" rx="0" fill="#000" stroke="none" stroke-width="1.8"/>
<rect x="459.5" y="183.5" width="129.0" height="46.0" rx="0" fill="#fff" stroke="#fff" stroke-width="1"/>
<rect x="461.5" y="185.5" width="11.5" height="42.0" rx="0" fill="#b5b5b5" stroke="none" stroke-width="1.8"/>
<path d="M461.0,185 L473.5,185 L473.5,188 Q471.0,190 471.0,193 L471.0,216 L463.5,216 L463.5,193 Q463.5,190 461.0,188 Z" fill="#000"/>
<rect x="475.6" y="185.5" width="11.5" height="42.0" rx="0" fill="#b5b5b5" stroke="none" stroke-width="1.8"/>
<path d="M477.6,195 L485.1,195 L485.1,217 Q485.1,220 487.6,222 L487.6,225 L475.1,225 L475.1,222 Q477.6,220 477.6,217 Z" fill="#000"/>
<rect x="489.7" y="185.5" width="11.5" height="42.0" rx="0" fill="#b5b5b5" stroke="none" stroke-width="1.8"/>
<path d="M489.2,185 L501.7,185 L501.7,188 Q499.2,190 499.2,193 L499.2,216 L491.7,216 L491.7,193 Q491.7,190 489.2,188 Z" fill="#000"/>
<rect x="503.8" y="185.5" width="11.5" height="42.0" rx="0" fill="#b5b5b5" stroke="none" stroke-width="1.8"/>
<path d="M505.8,195 L513.3,195 L513.3,217 Q513.3,220 515.8,222 L515.8,225 L503.3,225 L503.3,222 Q505.8,220 505.8,217 Z" fill="#000"/>
<rect x="517.9" y="185.5" width="11.5" height="42.0" rx="0" fill="#b5b5b5" stroke="none" stroke-width="1.8"/>
<path d="M517.4,185 L529.9,185 L529.9,188 Q527.4,190 527.4,193 L527.4,216 L519.9,216 L519.9,193 Q519.9,190 517.4,188 Z" fill="#000"/>
<rect x="532.0" y="185.5" width="11.5" height="42.0" rx="0" fill="#b5b5b5" stroke="none" stroke-width="1.8"/>
<path d="M534.0,195 L541.5,195 L541.5,217 Q541.5,220 544.0,222 L544.0,225 L531.5,225 L531.5,222 Q534.0,220 534.0,217 Z" fill="#000"/>
<rect x="546.1" y="185.5" width="11.5" height="42.0" rx="0" fill="#b5b5b5" stroke="none" stroke-width="1.8"/>
<path d="M545.6,185 L558.1,185 L558.1,188 Q555.6,190 555.6,193 L555.6,216 L548.1,216 L548.1,193 Q548.1,190 545.6,188 Z" fill="#000"/>
<rect x="560.2" y="185.5" width="11.5" height="42.0" rx="0" fill="#b5b5b5" stroke="none" stroke-width="1.8"/>
<path d="M562.2,195 L569.7,195 L569.7,217 Q569.7,220 572.2,222 L572.2,225 L559.7,225 L559.7,222 Q562.2,220 562.2,217 Z" fill="#000"/>
<rect x="574.3" y="185.5" width="11.5" height="42.0" rx="0" fill="#b5b5b5" stroke="none" stroke-width="1.8"/>
<path d="M573.8,185 L586.3,185 L586.3,188 Q583.8,190 583.8,193 L583.8,216 L576.3,216 L576.3,193 Q576.3,190 573.8,188 Z" fill="#000"/>
<rect x="479.5" y="233.5" width="108.0" height="54.5" rx="0" fill="#fff" stroke="#fff" stroke-width="1"/>
<rect x="481.0" y="235.0" width="9.8" height="51.5" rx="0" fill="#b9b9b9" stroke="none" stroke-width="1.8"/>
<circle cx="485.9" cy="252.0" r="1.2" fill="#000"/><circle cx="485.9" cy="268.0" r="1.2" fill="#000"/>
<rect x="492.0" y="235.0" width="9.8" height="51.5" rx="0" fill="#b9b9b9" stroke="none" stroke-width="1.8"/>
<circle cx="496.9" cy="252.0" r="1.2" fill="#000"/><circle cx="496.9" cy="268.0" r="1.2" fill="#000"/>
<rect x="503.0" y="235.0" width="10.8" height="51.5" rx="0" fill="#b9b9b9" stroke="none" stroke-width="1.8"/>
<circle cx="508.4" cy="252.0" r="1.2" fill="#000"/><circle cx="508.4" cy="268.0" r="1.2" fill="#000"/>
<rect x="515.0" y="235.0" width="10.8" height="51.5" rx="0" fill="#b9b9b9" stroke="none" stroke-width="1.8"/>
<circle cx="520.4" cy="252.0" r="1.2" fill="#000"/><circle cx="520.4" cy="268.0" r="1.2" fill="#000"/>
<rect x="527.0" y="235.0" width="9.8" height="51.5" rx="0" fill="#b9b9b9" stroke="none" stroke-width="1.8"/>
<circle cx="531.9" cy="252.0" r="1.2" fill="#000"/><circle cx="531.9" cy="268.0" r="1.2" fill="#000"/>
<rect x="538.0" y="235.0" width="10.8" height="51.5" rx="0" fill="#b9b9b9" stroke="none" stroke-width="1.8"/>
<circle cx="543.4" cy="252.0" r="1.2" fill="#000"/><circle cx="543.4" cy="268.0" r="1.2" fill="#000"/>
<rect x="550.0" y="235.0" width="10.8" height="51.5" rx="0" fill="#b9b9b9" stroke="none" stroke-width="1.8"/>
<circle cx="555.4" cy="252.0" r="1.2" fill="#000"/><circle cx="555.4" cy="268.0" r="1.2" fill="#000"/>
<rect x="562.0" y="235.0" width="10.8" height="51.5" rx="0" fill="#b9b9b9" stroke="none" stroke-width="1.8"/>
<circle cx="567.4" cy="252.0" r="1.2" fill="#000"/><circle cx="567.4" cy="268.0" r="1.2" fill="#000"/>
<rect x="574.0" y="235.0" width="10.8" height="51.5" rx="0" fill="#b9b9b9" stroke="none" stroke-width="1.8"/>
<circle cx="579.4" cy="252.0" r="1.2" fill="#000"/><circle cx="579.4" cy="268.0" r="1.2" fill="#000"/>
<rect x="490.5" y="291.5" width="97.0" height="29.5" rx="0" fill="#fff" stroke="#fff" stroke-width="1"/>
<rect x="492.0" y="293.0" width="8.8" height="26.5" rx="0" fill="#b9b9b9" stroke="none" stroke-width="1.8"/>
<circle cx="496.4" cy="304.0" r="0.9" fill="#000"/><circle cx="496.4" cy="312.0" r="0.9" fill="#000"/>
<rect x="502.0" y="293.0" width="9.8" height="26.5" rx="0" fill="#b9b9b9" stroke="none" stroke-width="1.8"/>
<circle cx="506.9" cy="304.0" r="0.9" fill="#000"/><circle cx="506.9" cy="312.0" r="0.9" fill="#000"/>
<rect x="513.0" y="293.0" width="9.8" height="26.5" rx="0" fill="#b9b9b9" stroke="none" stroke-width="1.8"/>
<circle cx="517.9" cy="304.0" r="0.9" fill="#000"/><circle cx="517.9" cy="312.0" r="0.9" fill="#000"/>
<rect x="524.0" y="293.0" width="9.8" height="26.5" rx="0" fill="#b9b9b9" stroke="none" stroke-width="1.8"/>
<circle cx="528.9" cy="304.0" r="0.9" fill="#000"/><circle cx="528.9" cy="312.0" r="0.9" fill="#000"/>
<rect x="535.0" y="293.0" width="8.8" height="26.5" rx="0" fill="#b9b9b9" stroke="none" stroke-width="1.8"/>
<circle cx="539.4" cy="304.0" r="0.9" fill="#000"/><circle cx="539.4" cy="312.0" r="0.9" fill="#000"/>
<rect x="545.0" y="293.0" width="9.8" height="26.5" rx="0" fill="#b9b9b9" stroke="none" stroke-width="1.8"/>
<circle cx="549.9" cy="304.0" r="0.9" fill="#000"/><circle cx="549.9" cy="312.0" r="0.9" fill="#000"/>
<rect x="556.0" y="293.0" width="9.8" height="26.5" rx="0" fill="#b9b9b9" stroke="none" stroke-width="1.8"/>
<circle cx="560.9" cy="304.0" r="0.9" fill="#000"/><circle cx="560.9" cy="312.0" r="0.9" fill="#000"/>
<rect x="567.0" y="293.0" width="8.8" height="26.5" rx="0" fill="#b9b9b9" stroke="none" stroke-width="1.8"/>
<circle cx="571.4" cy="304.0" r="0.9" fill="#000"/><circle cx="571.4" cy="312.0" r="0.9" fill="#000"/>
<rect x="577.0" y="293.0" width="7.8" height="26.5" rx="0" fill="#b9b9b9" stroke="none" stroke-width="1.8"/>
<circle cx="580.9" cy="304.0" r="0.9" fill="#000"/><circle cx="580.9" cy="312.0" r="0.9" fill="#000"/>
<ellipse cx="462" cy="357" rx="41" ry="37.5" fill="#000" stroke="#fff" stroke-width="2.2"/>
<line x1="462" y1="320" x2="462" y2="394" stroke="#fff" stroke-width="1.2"/>
<circle cx="452.0" cy="329.0" r="1" fill="#ccc"/><circle cx="472.0" cy="329.0" r="1" fill="#ccc"/>
<circle cx="452.0" cy="347.0" r="1" fill="#ccc"/><circle cx="472.0" cy="347.0" r="1" fill="#ccc"/>
<circle cx="452.0" cy="366.0" r="1" fill="#ccc"/><circle cx="472.0" cy="366.0" r="1" fill="#ccc"/>
<circle cx="452.0" cy="385.0" r="1" fill="#ccc"/><circle cx="472.0" cy="385.0" r="1" fill="#ccc"/>
<rect x="503.5" y="326.0" width="84.5" height="47.5" rx="5" fill="#fff" stroke="#fff" stroke-width="1"/>
<path d="M506.5,330 Q514.5,350 506.5,370 L510.0,370 Q522.0,350 510.0,330 Z" fill="#000" stroke="#000" stroke-width="0.6"/>
<circle cx="508.5" cy="331.0" r="1.6" fill="#000"/><circle cx="508.5" cy="369.0" r="1.6" fill="#000"/>
<circle cx="508.5" cy="331.0" r="0.6" fill="#999"/><circle cx="508.5" cy="369.0" r="0.6" fill="#999"/>
<path d="M516.0,330 Q524.0,350 516.0,370 L519.5,370 Q531.5,350 519.5,330 Z" fill="#000" stroke="#000" stroke-width="0.6"/>
<circle cx="518.0" cy="331.0" r="1.6" fill="#000"/><circle cx="518.0" cy="369.0" r="1.6" fill="#000"/>
<circle cx="518.0" cy="331.0" r="0.6" fill="#999"/><circle cx="518.0" cy="369.0" r="0.6" fill="#999"/>
<path d="M525.4,330 Q533.4,350 525.4,370 L528.9,370 Q540.9,350 528.9,330 Z" fill="#000" stroke="#000" stroke-width="0.6"/>
<circle cx="527.4" cy="331.0" r="1.6" fill="#000"/><circle cx="527.4" cy="369.0" r="1.6" fill="#000"/>
<circle cx="527.4" cy="331.0" r="0.6" fill="#999"/><circle cx="527.4" cy="369.0" r="0.6" fill="#999"/>
<path d="M534.9,330 Q542.9,350 534.9,370 L538.4,370 Q550.4,350 538.4,330 Z" fill="#000" stroke="#000" stroke-width="0.6"/>
<circle cx="536.9" cy="331.0" r="1.6" fill="#000"/><circle cx="536.9" cy="369.0" r="1.6" fill="#000"/>
<circle cx="536.9" cy="331.0" r="0.6" fill="#999"/><circle cx="536.9" cy="369.0" r="0.6" fill="#999"/>
<path d="M544.3,330 Q552.3,350 544.3,370 L547.8,370 Q559.8,350 547.8,330 Z" fill="#000" stroke="#000" stroke-width="0.6"/>
<circle cx="546.3" cy="331.0" r="1.6" fill="#000"/><circle cx="546.3" cy="369.0" r="1.6" fill="#000"/>
<circle cx="546.3" cy="331.0" r="0.6" fill="#999"/><circle cx="546.3" cy="369.0" r="0.6" fill="#999"/>
<path d="M553.8,330 Q561.8,350 553.8,370 L557.2,370 Q569.2,350 557.2,330 Z" fill="#000" stroke="#000" stroke-width="0.6"/>
<circle cx="555.8" cy="331.0" r="1.6" fill="#000"/><circle cx="555.8" cy="369.0" r="1.6" fill="#000"/>
<circle cx="555.8" cy="331.0" r="0.6" fill="#999"/><circle cx="555.8" cy="369.0" r="0.6" fill="#999"/>
<path d="M563.2,330 Q571.2,350 563.2,370 L566.7,370 Q578.7,350 566.7,330 Z" fill="#000" stroke="#000" stroke-width="0.6"/>
<circle cx="565.2" cy="331.0" r="1.6" fill="#000"/><circle cx="565.2" cy="369.0" r="1.6" fill="#000"/>
<circle cx="565.2" cy="331.0" r="0.6" fill="#999"/><circle cx="565.2" cy="369.0" r="0.6" fill="#999"/>
<path d="M572.6,330 Q580.6,350 572.6,370 L576.1,370 Q588.1,350 576.1,330 Z" fill="#000" stroke="#000" stroke-width="0.6"/>
<circle cx="574.6" cy="331.0" r="1.6" fill="#000"/><circle cx="574.6" cy="369.0" r="1.6" fill="#000"/>
<circle cx="574.6" cy="331.0" r="0.6" fill="#999"/><circle cx="574.6" cy="369.0" r="0.6" fill="#999"/>
<path d="M582.1,330 Q590.1,350 582.1,370 L585.6,370 Q597.6,350 585.6,330 Z" fill="#000" stroke="#000" stroke-width="0.6"/>
<circle cx="584.1" cy="331.0" r="1.6" fill="#000"/><circle cx="584.1" cy="369.0" r="1.6" fill="#000"/>
<circle cx="584.1" cy="331.0" r="0.6" fill="#999"/><circle cx="584.1" cy="369.0" r="0.6" fill="#999"/>
<line x1="504" y1="344" x2="588" y2="344" stroke="#aaa" stroke-width="0.6"/><line x1="504" y1="355.6" x2="588" y2="355.6" stroke="#aaa" stroke-width="0.6"/>
<rect x="509.0" y="381.0" width="78.0" height="6.5" rx="2" fill="#b5b5b5" stroke="#fff" stroke-width="1.4"/><rect x="509.0" y="388.5" width="78.0" height="5.5" rx="2" fill="#b5b5b5" stroke="#fff" stroke-width="1.4"/>
<rect x="495.5" y="396.0" width="91.5" height="7.0" rx="2" fill="#b5b5b5" stroke="#fff" stroke-width="1.4"/>
<rect x="445.0" y="398.5" width="43.0" height="8.0" rx="4" fill="#000" stroke="#fff" stroke-width="1.6"/>
</g>
<g id="rp">
<rect x="611" y="167.5" width="307" height="200" rx="8" fill="#000"/>
<text x="623.8" y="180.6" font-size="14" fill="#eee" text-anchor="start" font-style="italic" stroke="#eee" stroke-width="0.35" textLength="40.5">ABER</text>
<text x="665.0" y="173.0" font-size="5" fill="#ccc" text-anchor="start" >®</text>
<text x="796.0" y="177.5" font-size="9.6" fill="#e0e0e0" text-anchor="start" font-weight="bold" font-style="italic" textLength="110">Made in Poland  ©  2023</text>
<rect x="627.5" y="183.5" width="63.5" height="44.5" rx="4" fill="#fff" stroke="#fff" stroke-width="1"/>
<path d="M633,186.2 Q660,188.4 686,186.2 A2.8,2.8 0 0 1 686,191.8 Q660,191.2 633,191.8 A2.8,2.8 0 0 1 633,186.2 Z" fill="#000"/>
<circle cx="633.0" cy="189.0" r="0.8" fill="#999"/><circle cx="637.0" cy="189.0" r="0.7" fill="#999"/><circle cx="682.0" cy="189.0" r="0.7" fill="#999"/><circle cx="686.0" cy="189.0" r="0.8" fill="#999"/>
<path d="M633,196.9 Q660,199.1 686,196.9 A2.8,2.8 0 0 1 686,202.5 Q660,201.9 633,202.5 A2.8,2.8 0 0 1 633,196.9 Z" fill="#000"/>
<circle cx="633.0" cy="199.7" r="0.8" fill="#999"/><circle cx="637.0" cy="199.7" r="0.7" fill="#999"/><circle cx="682.0" cy="199.7" r="0.7" fill="#999"/><circle cx="686.0" cy="199.7" r="0.8" fill="#999"/>
<path d="M633,207.7 Q660,209.9 686,207.7 A2.8,2.8 0 0 1 686,213.3 Q660,212.7 633,213.3 A2.8,2.8 0 0 1 633,207.7 Z" fill="#000"/>
<circle cx="633.0" cy="210.5" r="0.8" fill="#999"/><circle cx="637.0" cy="210.5" r="0.7" fill="#999"/><circle cx="682.0" cy="210.5" r="0.7" fill="#999"/><circle cx="686.0" cy="210.5" r="0.8" fill="#999"/>
<path d="M633,218.5 Q660,220.7 686,218.5 A2.8,2.8 0 0 1 686,224.1 Q660,223.5 633,224.1 A2.8,2.8 0 0 1 633,218.5 Z" fill="#000"/>
<circle cx="633.0" cy="221.3" r="0.8" fill="#999"/><circle cx="637.0" cy="221.3" r="0.7" fill="#999"/><circle cx="682.0" cy="221.3" r="0.7" fill="#999"/><circle cx="686.0" cy="221.3" r="0.8" fill="#999"/>
<rect x="695.5" y="184.0" width="38.5" height="25.5" rx="4" fill="#fff" stroke="#fff" stroke-width="1"/>
<path d="M697.0,186.5 Q705.0,196.5 697.0,207 L699.6,207 Q713.0,196.5 699.6,186.5 Z" fill="#000" stroke="#000" stroke-width="0.8" stroke-linejoin="round"/>
<path d="M705.9,186.5 Q713.9,196.5 705.9,207 L708.5,207 Q721.9,196.5 708.5,186.5 Z" fill="#000" stroke="#000" stroke-width="0.8" stroke-linejoin="round"/>
<path d="M714.8,186.5 Q722.8,196.5 714.8,207 L717.4,207 Q730.8,196.5 717.4,186.5 Z" fill="#000" stroke="#000" stroke-width="0.8" stroke-linejoin="round"/>
<path d="M723.7,186.5 Q731.7,196.5 723.7,207 L726.3,207 Q739.7,196.5 726.3,186.5 Z" fill="#000" stroke="#000" stroke-width="0.8" stroke-linejoin="round"/>
<line x1="696" y1="196.7" x2="734" y2="196.7" stroke="#ddd" stroke-width="0.7"/>
<rect x="737.5" y="183.5" width="24.0" height="29.0" rx="3" fill="#fff" stroke="#fff" stroke-width="1"/>
<rect x="740.0" y="186.0" width="19.0" height="4.4" rx="2.2" fill="#000" stroke="none" stroke-width="1.8"/><rect x="745.0" y="186.6" width="9.0" height="3.2" rx="0" fill="#999" stroke="none" stroke-width="1.8"/>
<rect x="740.0" y="192.6" width="19.0" height="4.4" rx="2.2" fill="#000" stroke="none" stroke-width="1.8"/><rect x="745.0" y="193.2" width="9.0" height="3.2" rx="0" fill="#999" stroke="none" stroke-width="1.8"/>
<rect x="740.0" y="199.2" width="19.0" height="4.4" rx="2.2" fill="#000" stroke="none" stroke-width="1.8"/><rect x="745.0" y="199.8" width="9.0" height="3.2" rx="0" fill="#999" stroke="none" stroke-width="1.8"/>
<rect x="740.0" y="205.8" width="19.0" height="4.4" rx="2.2" fill="#000" stroke="none" stroke-width="1.8"/><rect x="745.0" y="206.4" width="9.0" height="3.2" rx="0" fill="#999" stroke="none" stroke-width="1.8"/>
<rect x="701.5" y="211.3" width="27.0" height="8.0" rx="4" fill="#fff" stroke="#fff" stroke-width="1"/>
<circle cx="706.3" cy="215.3" r="2.4" fill="#222"/>
<circle cx="712.4" cy="215.3" r="2.4" fill="#222"/>
<circle cx="718.5" cy="215.3" r="2.4" fill="#222"/>
<circle cx="724.6" cy="215.3" r="2.4" fill="#222"/>
<rect x="693.3" y="221.3" width="26.2" height="7.7" rx="3.8" fill="#fff" stroke="#fff" stroke-width="1"/>
<circle cx="697.5" cy="225.2" r="2.4" fill="#222"/>
<circle cx="703.5" cy="225.2" r="2.4" fill="#222"/>
<circle cx="709.5" cy="225.2" r="2.4" fill="#222"/>
<circle cx="715.5" cy="225.2" r="2.4" fill="#222"/>
<path d="M629,255.5 L629,238 L634,231.5 L643,231.5 L648,238 L648,255.5 Z" fill="#000" stroke="#fff" stroke-width="1.8"/>
<circle cx="638.0" cy="237.5" r="1" fill="#ccc"/><circle cx="634.0" cy="250.0" r="2" fill="#999"/><circle cx="642.5" cy="250.0" r="2" fill="#999"/>
<rect x="653.5" y="232.0" width="35.5" height="23.5" rx="4" fill="#fff" stroke="#fff" stroke-width="1"/>
<rect x="656.0" y="234.5" width="30.0" height="8.0" rx="3.5" fill="#000" stroke="none" stroke-width="1.8"/><rect x="656.0" y="245.0" width="30.0" height="8.0" rx="3.5" fill="#000" stroke="none" stroke-width="1.8"/>
<circle cx="660.0" cy="238.5" r="1" fill="#ccc"/><circle cx="682.0" cy="238.5" r="1" fill="#ccc"/><circle cx="660.0" cy="249.0" r="1" fill="#ccc"/><circle cx="682.0" cy="249.0" r="1" fill="#ccc"/>
<path d="M693,233 L720,233 Q730,230 735,225 L735,256 L693,256 Z" fill="#000" stroke="#fff" stroke-width="1.8"/>
<circle cx="700.0" cy="239.0" r="2" fill="#888"/><circle cx="707.0" cy="251.0" r="2" fill="#888"/>
<circle cx="747.8" cy="235.5" r="19" fill="#b0b0b0" stroke="#fff" stroke-width="2.2"/>
<circle cx="747.8" cy="235.5" r="12.3" fill="#fff" stroke="#fff" stroke-width="1"/>
<circle cx="762.8" cy="240.1" r="0.9" fill="#333"/>
<circle cx="755.1" cy="249.4" r="0.9" fill="#333"/>
<circle cx="743.2" cy="250.5" r="0.9" fill="#333"/>
<circle cx="733.9" cy="242.8" r="0.9" fill="#333"/>
<circle cx="732.8" cy="230.9" r="0.9" fill="#333"/>
<circle cx="740.5" cy="221.6" r="0.9" fill="#333"/>
<circle cx="752.4" cy="220.5" r="0.9" fill="#333"/>
<circle cx="761.7" cy="228.2" r="0.9" fill="#333"/>
<circle cx="784.8" cy="233.4" r="19" fill="#b0b0b0" stroke="#fff" stroke-width="2.2"/>
<circle cx="784.8" cy="233.4" r="12.3" fill="#fff" stroke="#fff" stroke-width="1"/>
<circle cx="799.8" cy="238.0" r="0.9" fill="#333"/>
<circle cx="792.1" cy="247.3" r="0.9" fill="#333"/>
<circle cx="780.2" cy="248.4" r="0.9" fill="#333"/>
<circle cx="770.9" cy="240.7" r="0.9" fill="#333"/>
<circle cx="769.8" cy="228.8" r="0.9" fill="#333"/>
<circle cx="777.5" cy="219.5" r="0.9" fill="#333"/>
<circle cx="789.4" cy="218.4" r="0.9" fill="#333"/>
<circle cx="798.7" cy="226.1" r="0.9" fill="#333"/>
<path d="M766.5,183.5 L800,183.5 L800,196.5 L795,196.5 L795,210 L772,210 L772,196.5 L766.5,196.5 Z" fill="#000" stroke="#fff" stroke-width="1.8"/>
<circle cx="775.5" cy="202.5" r="1.5" fill="#aaa"/><circle cx="789.0" cy="202.5" r="1.5" fill="#aaa"/>
<rect x="815.5" y="182.5" width="42.0" height="15.0" rx="3" fill="#000" stroke="#fff" stroke-width="1.8"/><circle cx="822.0" cy="190.0" r="1.8" fill="#999"/><circle cx="834.0" cy="190.0" r="1.8" fill="#999"/>
<path d="M862.5,182.5 L902.5,182.5 L902.5,196 L898,196 L898,210 L868,210 L868,196 L862.5,196 Z" fill="#000" stroke="#fff" stroke-width="1.8"/>
<circle cx="873.0" cy="203.0" r="1.7" fill="#aaa"/><circle cx="893.0" cy="203.0" r="1.7" fill="#aaa"/>
<rect x="807.5" y="201.0" width="54.5" height="18.5" rx="5" fill="#000" stroke="#fff" stroke-width="1.8"/><circle cx="820.0" cy="205.0" r="1.4" fill="#999"/><circle cx="820.0" cy="214.0" r="1.4" fill="#999"/><circle cx="834.0" cy="210.0" r="2" fill="#999"/>
<rect x="817.0" y="224.0" width="47.5" height="26.0" rx="4" fill="#fff" stroke="#fff" stroke-width="1"/>
<rect x="819.0" y="226.0" width="43.0" height="10.0" rx="5" fill="#000" stroke="none" stroke-width="1.8"/><rect x="819.0" y="238.0" width="43.0" height="10.0" rx="5" fill="#000" stroke="none" stroke-width="1.8"/>
<circle cx="823.0" cy="231.0" r="1" fill="#ccc"/><circle cx="841.0" cy="231.0" r="2.2" fill="#999"/><circle cx="857.0" cy="231.0" r="2.2" fill="#999"/>
<circle cx="823.0" cy="243.0" r="1" fill="#ccc"/><circle cx="841.0" cy="243.0" r="2.2" fill="#999"/><circle cx="857.0" cy="243.0" r="2.2" fill="#999"/>
<rect x="870.5" y="214.5" width="32.0" height="41.5" rx="0" fill="#fff" stroke="#fff" stroke-width="1"/>
<rect x="872.0" y="216.0" width="7.5" height="8.0" rx="0" fill="#000" stroke="none" stroke-width="1.8"/><rect x="881.0" y="216.0" width="20.0" height="8.0" rx="0" fill="#000" stroke="none" stroke-width="1.8"/><circle cx="875.5" cy="220.0" r="0.8" fill="#ccc"/>
<rect x="872.0" y="226.2" width="7.5" height="8.0" rx="0" fill="#000" stroke="none" stroke-width="1.8"/><rect x="881.0" y="226.2" width="20.0" height="8.0" rx="0" fill="#000" stroke="none" stroke-width="1.8"/><circle cx="875.5" cy="230.2" r="0.8" fill="#ccc"/>
<rect x="872.0" y="236.4" width="7.5" height="8.0" rx="0" fill="#000" stroke="none" stroke-width="1.8"/><rect x="881.0" y="236.4" width="20.0" height="8.0" rx="0" fill="#000" stroke="none" stroke-width="1.8"/><circle cx="875.5" cy="240.4" r="0.8" fill="#ccc"/>
<rect x="872.0" y="246.6" width="7.5" height="8.0" rx="0" fill="#000" stroke="none" stroke-width="1.8"/><rect x="881.0" y="246.6" width="20.0" height="8.0" rx="0" fill="#000" stroke="none" stroke-width="1.8"/><circle cx="875.5" cy="250.6" r="0.8" fill="#ccc"/>
<rect x="803.3" y="253.5" width="61.2" height="11.5" rx="5.7" fill="#fff" stroke="#fff" stroke-width="1"/>
<circle cx="809.6" cy="259.2" r="3" fill="#000"/><circle cx="809.6" cy="259.2" r="0.8" fill="#999"/>
<circle cx="819.2" cy="259.2" r="3" fill="#000"/><circle cx="819.2" cy="259.2" r="0.8" fill="#999"/>
<circle cx="828.8" cy="259.2" r="3" fill="#000"/><circle cx="828.8" cy="259.2" r="0.8" fill="#999"/>
<circle cx="838.4" cy="259.2" r="3" fill="#000"/><circle cx="838.4" cy="259.2" r="0.8" fill="#999"/>
<circle cx="848.0" cy="259.2" r="3" fill="#000"/><circle cx="848.0" cy="259.2" r="0.8" fill="#999"/>
<circle cx="857.6" cy="259.2" r="3" fill="#000"/><circle cx="857.6" cy="259.2" r="0.8" fill="#999"/>
<rect x="874.5" y="256.5" width="28.5" height="39.5" rx="0" fill="#fff" stroke="#fff" stroke-width="1"/>
<rect x="876.0" y="258.0" width="12.0" height="10.0" rx="0" fill="#000" stroke="none" stroke-width="1.8"/>
<rect x="889.5" y="258.0" width="12.0" height="10.0" rx="0" fill="#000" stroke="none" stroke-width="1.8"/>
<rect x="876.0" y="270.0" width="12.0" height="11.0" rx="0" fill="#000" stroke="none" stroke-width="1.8"/>
<rect x="889.5" y="270.0" width="12.0" height="11.0" rx="0" fill="#000" stroke="none" stroke-width="1.8"/>
<rect x="876.0" y="283.0" width="12.0" height="11.0" rx="0" fill="#000" stroke="none" stroke-width="1.8"/>
<rect x="889.5" y="283.0" width="12.0" height="11.0" rx="0" fill="#000" stroke="none" stroke-width="1.8"/>
<circle cx="639.0" cy="272.8" r="10.6" fill="#000" stroke="#fff" stroke-width="2.6"/>
<path d="M643.0,272.8 L648.9,274.3 Q644.1,275.9 647.3,278.4 Z" fill="#fff"/>
<path d="M641.8,275.6 L644.9,280.8 Q640.4,278.6 640.8,282.6 Z" fill="#fff"/>
<path d="M639.0,276.8 L637.5,282.7 Q635.9,277.9 633.4,281.1 Z" fill="#fff"/>
<path d="M636.2,275.6 L631.0,278.7 Q633.2,274.2 629.2,274.6 Z" fill="#fff"/>
<path d="M635.0,272.8 L629.1,271.3 Q633.9,269.7 630.7,267.2 Z" fill="#fff"/>
<path d="M636.2,270.0 L633.1,264.8 Q637.6,267.0 637.2,263.0 Z" fill="#fff"/>
<path d="M639.0,268.8 L640.5,262.9 Q642.1,267.7 644.6,264.5 Z" fill="#fff"/>
<path d="M641.8,270.0 L647.0,266.9 Q644.8,271.4 648.8,271.0 Z" fill="#fff"/>
<circle cx="639.0" cy="272.8" r="3.5" fill="#fff" stroke="#fff" stroke-width="0.5"/><circle cx="639.0" cy="272.8" r="1.3" fill="#000"/>
<circle cx="633.4" cy="296.8" r="6.2" fill="#000" stroke="#fff" stroke-width="2.8"/><circle cx="633.4" cy="296.8" r="1.3" fill="#888"/>
<rect x="657.5" y="262.0" width="89.5" height="9.0" rx="0" fill="#000" stroke="#fff" stroke-width="1.8"/>
<line x1="684" y1="262" x2="684" y2="271" stroke="#fff" stroke-width="1.2"/><line x1="711" y1="262" x2="711" y2="271" stroke="#fff" stroke-width="1.2"/><rect x="727" y="265" width="18" height="3" fill="#fff"/>
<circle cx="665.0" cy="266.5" r="1.2" fill="#ccc"/>
<rect x="668.0" y="272.5" width="146.0" height="30.5" rx="0" fill="#fff" stroke="#fff" stroke-width="1"/>
<rect x="669.5" y="274.0" width="12.5" height="17.0" rx="0" fill="#000" stroke="none" stroke-width="1.8"/>
<circle cx="675.0" cy="279.0" r="2.2" fill="#000" stroke="#fff" stroke-width="1.2"/><circle cx="675.0" cy="286.0" r="2.2" fill="#000" stroke="#fff" stroke-width="1.2"/>
<rect x="680.0" y="276.0" width="2.5" height="14.0" rx="0" fill="#fff" stroke="none" stroke-width="1.8"/>
<rect x="683.5" y="272.5" width="26.5" height="28.5" rx="0" fill="#000" stroke="none" stroke-width="1.8"/>
<circle cx="689.0" cy="286.5" r="1.8" fill="#999"/><circle cx="705.0" cy="286.5" r="1.8" fill="#999"/><circle cx="689.0" cy="296.0" r="1.8" fill="#999"/><circle cx="705.0" cy="296.0" r="1.8" fill="#999"/>
<rect x="669.5" y="292.5" width="130.5" height="8.5" rx="0" fill="#000" stroke="none" stroke-width="1.8"/><rect x="800.0" y="293.0" width="13.0" height="4.0" rx="0" fill="#aaa" stroke="none" stroke-width="1.8"/><rect x="800.0" y="298.0" width="13.0" height="3.0" rx="0" fill="#aaa" stroke="none" stroke-width="1.8"/>
<rect x="671.0" y="294.0" width="9.0" height="6.0" rx="0" fill="#fff" stroke="none" stroke-width="1.8"/><circle cx="675.5" cy="297.0" r="1" fill="#000"/>
<rect x="712.0" y="274.0" width="38.0" height="17.0" rx="0" fill="#000" stroke="none" stroke-width="1.8"/>
<rect x="714.5" y="280.0" width="32.5" height="9.0" rx="0" fill="#fff" stroke="none" stroke-width="1.8"/>
<rect x="716.0" y="281.5" width="29.5" height="6.0" rx="0" fill="#000" stroke="none" stroke-width="1.8"/>
<circle cx="723.0" cy="284.5" r="2.2" fill="#000" stroke="#fff" stroke-width="1.3"/><circle cx="738.0" cy="284.5" r="2.2" fill="#000" stroke="#fff" stroke-width="1.3"/><line x1="725" y1="284.5" x2="736" y2="284.5" stroke="#fff" stroke-width="1.2"/>
<rect x="750.5" y="256.5" width="50.5" height="34.5" rx="4" fill="#fff" stroke="#fff" stroke-width="1"/>
<rect x="752.5" y="258.8" width="46.5" height="8.0" rx="4" fill="#000" stroke="none" stroke-width="1.8"/><rect x="763.0" y="259.5" width="26.5" height="6.5" rx="0" fill="#aaa" stroke="none" stroke-width="1.8"/>
<rect x="752.5" y="270.0" width="46.5" height="8.0" rx="4" fill="#000" stroke="none" stroke-width="1.8"/><rect x="800.0" y="272.0" width="16.5" height="6.0" rx="0" fill="#aaa" stroke="none" stroke-width="1.8"/>
<rect x="752.5" y="281.2" width="46.5" height="8.0" rx="4" fill="#000" stroke="none" stroke-width="1.8"/><rect x="800.0" y="283.0" width="16.5" height="6.0" rx="0" fill="#aaa" stroke="none" stroke-width="1.8"/>
<line x1="757" y1="274" x2="770" y2="274" stroke="#fff" stroke-width="1.2"/><circle cx="771" cy="274" r="1.8" fill="#fff"/>
<line x1="757" y1="285.2" x2="770" y2="285.2" stroke="#fff" stroke-width="1.2"/><circle cx="771" cy="285.2" r="1.8" fill="#fff"/>
<path d="M651,286.5 L663.8,286.5 L663.8,352 L648,352 L643,336 L643,306 Z" fill="#b3b3b3" stroke="#fff" stroke-width="1.5"/>
<path d="M636,309.5 L820,309.5 L820,331.5 L636,331.5 A11,11 0 0 1 636,309.5 Z" fill="none" stroke="#fff" stroke-width="1.8"/>
<path d="M636,312 L819,312 L819,329 L636,329 A8.5,8.5 0 0 1 636,312 Z" fill="#000"/>
<path d="M636,315.2 L819,315.2 L819,325.8 L636,325.8 A5.3,5.3 0 0 1 636,315.2 Z" fill="#fff"/>
<rect x="821.5" y="311.0" width="24.0" height="16.0" rx="0" fill="#000" stroke="#fff" stroke-width="1.8"/>
<rect x="628.0" y="335.5" width="16.5" height="16.5" rx="4" fill="#fff" stroke="#fff" stroke-width="1"/><circle cx="632.0" cy="339.5" r="1.6" fill="#000"/><circle cx="638.0" cy="339.5" r="1.6" fill="#000"/><circle cx="632.0" cy="346.5" r="1.6" fill="#000"/><circle cx="639.0" cy="348.0" r="1.6" fill="#000"/>
<rect x="672.0" y="336.0" width="76.5" height="16.5" rx="0" fill="#fff" stroke="#fff" stroke-width="1"/>
<rect x="674.0" y="338.0" width="20.0" height="5.5" rx="0" fill="#000" stroke="none" stroke-width="1.8"/><rect x="696.0" y="338.0" width="4.0" height="5.5" rx="0" fill="#000" stroke="none" stroke-width="1.8"/><rect x="700.0" y="338.0" width="47.0" height="5.5" rx="0" fill="#b0b0b0" stroke="none" stroke-width="1.8"/>
<rect x="674.0" y="345.5" width="20.0" height="5.5" rx="0" fill="#000" stroke="none" stroke-width="1.8"/><rect x="696.0" y="345.5" width="4.0" height="5.5" rx="0" fill="#000" stroke="none" stroke-width="1.8"/><rect x="700.0" y="345.5" width="47.0" height="5.5" rx="0" fill="#b0b0b0" stroke="none" stroke-width="1.8"/>
<rect x="820.8" y="268.0" width="50.2" height="12.0" rx="6" fill="#fff" stroke="#fff" stroke-width="1"/>
<rect x="820.8" y="281.6" width="50.2" height="11.4" rx="5.7" fill="#fff" stroke="#fff" stroke-width="1"/>
<rect x="820.8" y="296.4" width="31.7" height="11.6" rx="5.8" fill="#fff" stroke="#fff" stroke-width="1"/>
<circle cx="827.2" cy="274.0" r="3" fill="#000"/><circle cx="827.2" cy="287.3" r="3" fill="#000"/>
<circle cx="827.2" cy="274.0" r="0.8" fill="#888"/><circle cx="827.2" cy="287.3" r="0.8" fill="#888"/>
<circle cx="836.7" cy="274.0" r="3" fill="#000"/><circle cx="836.7" cy="287.3" r="3" fill="#000"/>
<circle cx="836.7" cy="274.0" r="0.8" fill="#888"/><circle cx="836.7" cy="287.3" r="0.8" fill="#888"/>
<circle cx="846.1" cy="274.0" r="3" fill="#000"/><circle cx="846.1" cy="287.3" r="3" fill="#000"/>
<circle cx="846.1" cy="274.0" r="0.8" fill="#888"/><circle cx="846.1" cy="287.3" r="0.8" fill="#888"/>
<circle cx="855.6" cy="274.0" r="3" fill="#000"/><circle cx="855.6" cy="287.3" r="3" fill="#000"/>
<circle cx="855.6" cy="274.0" r="0.8" fill="#888"/><circle cx="855.6" cy="287.3" r="0.8" fill="#888"/>
<circle cx="865.0" cy="274.0" r="3" fill="#000"/><circle cx="865.0" cy="287.3" r="3" fill="#000"/>
<circle cx="865.0" cy="274.0" r="0.8" fill="#888"/><circle cx="865.0" cy="287.3" r="0.8" fill="#888"/>
<circle cx="827.2" cy="302.2" r="3" fill="#000"/><circle cx="827.2" cy="302.2" r="0.8" fill="#888"/>
<circle cx="836.7" cy="302.2" r="3" fill="#000"/><circle cx="836.7" cy="302.2" r="0.8" fill="#888"/>
<circle cx="846.1" cy="302.2" r="3" fill="#000"/><circle cx="846.1" cy="302.2" r="0.8" fill="#888"/>
<path d="M836,330 L850,330 L850,312 Q856,304 867,304 Q878,304 884,312 L884,330 L897,330 Q899,330 899,333 L899,349 Q899,355 893,355 L839,355 Q833,355 833,349 L833,333 Q833,330 836,330 Z" fill="#fff"/>
<path d="M852,311 Q858,306 867,306 Q876,306 882,311 L882,322 Q878,330 867,331 Q856,330 852,322 Z" fill="#000"/>
<rect x="836.0" y="333.0" width="60.0" height="19.0" rx="3" fill="#000" stroke="none" stroke-width="1.8"/>
<rect x="889.0" y="298.0" width="13.0" height="30.0" rx="2" fill="#fff" stroke="#fff" stroke-width="1"/>
<rect x="891.0" y="300.0" width="4.5" height="7.0" rx="0" fill="#000" stroke="none" stroke-width="1.8"/><rect x="896.5" y="300.0" width="4.0" height="7.0" rx="0" fill="#000" stroke="none" stroke-width="1.8"/>
<rect x="891.0" y="309.6" width="4.5" height="7.0" rx="0" fill="#000" stroke="none" stroke-width="1.8"/><rect x="896.5" y="309.6" width="4.0" height="7.0" rx="0" fill="#000" stroke="none" stroke-width="1.8"/>
<rect x="891.0" y="319.2" width="4.5" height="7.0" rx="0" fill="#000" stroke="none" stroke-width="1.8"/><rect x="896.5" y="319.2" width="4.0" height="7.0" rx="0" fill="#000" stroke="none" stroke-width="1.8"/>
<rect x="760.0" y="330.0" width="70.0" height="24.5" rx="3" fill="#fff" stroke="#fff" stroke-width="1"/>
<rect x="762.0" y="331.5" width="13.0" height="7.5" rx="0" fill="#000" stroke="none" stroke-width="1.8"/><rect x="778.0" y="331.5" width="7.0" height="7.5" rx="0" fill="#fff" stroke="#fff" stroke-width="1.8"/><rect x="788.0" y="331.5" width="40.0" height="7.5" rx="0" fill="#000" stroke="none" stroke-width="1.8"/>
<rect x="762.0" y="342.0" width="66.0" height="10.5" rx="3" fill="#000" stroke="none" stroke-width="1.8"/><rect x="773" y="344" width="1.5" height="6" fill="#fff"/><rect x="786" y="342" width="1.5" height="10" fill="#fff"/><rect x="806" y="344" width="1.5" height="6" fill="#fff"/>
<text x="625.5" y="364.8" font-size="10" fill="#ddd" text-anchor="start" font-weight="bold" font-style="italic">16 190b</text>
<text x="680.0" y="364.8" font-size="10" fill="#ddd" text-anchor="start" font-weight="bold" font-style="italic" textLength="186">Pz.Kpfw. I Ausf. A/B - Tool holders</text>
<text x="614.0" y="202.5" font-size="9" fill="#c8c8c8" text-anchor="start" font-style="italic">44</text>
<text x="708.0" y="181.5" font-size="9" fill="#c8c8c8" text-anchor="start" font-style="italic">45</text>
<text x="744.0" y="181.5" font-size="9" fill="#c8c8c8" text-anchor="start" font-style="italic">46</text>
<text x="773.0" y="181.5" font-size="9" fill="#c8c8c8" text-anchor="start" font-style="italic">48</text>
<text x="799.0" y="190.5" font-size="9" fill="#c8c8c8" text-anchor="start" font-style="italic">51</text>
<text x="904.0" y="190.5" font-size="9" fill="#c8c8c8" text-anchor="start" font-style="italic">52</text>
<text x="801.0" y="206.5" font-size="9" fill="#c8c8c8" text-anchor="start" font-style="italic">50</text>
<text x="904.0" y="228.5" font-size="9" fill="#c8c8c8" text-anchor="start" font-style="italic">53</text>
<text x="807.0" y="227.5" font-size="9" fill="#c8c8c8" text-anchor="start" font-style="italic">b</text>
<text x="738.0" y="227.5" font-size="9" fill="#c8c8c8" text-anchor="start" font-style="italic">49</text>
<text x="807.0" y="245.5" font-size="9" fill="#c8c8c8" text-anchor="start" font-style="italic">54</text>
<text x="801.0" y="251.5" font-size="9" fill="#c8c8c8" text-anchor="start" font-style="italic">55a</text>
<text x="905.0" y="273.5" font-size="9" fill="#c8c8c8" text-anchor="start" font-style="italic">56</text>
<text x="619.0" y="234.5" font-size="9" fill="#c8c8c8" text-anchor="start" font-style="italic">59</text>
<text x="621.0" y="244.5" font-size="9" fill="#c8c8c8" text-anchor="start" font-style="italic">a</text>
<text x="616.0" y="275.5" font-size="9" fill="#c8c8c8" text-anchor="start" font-style="italic">60</text>
<text x="616.0" y="300.5" font-size="9" fill="#c8c8c8" text-anchor="start" font-style="italic">61</text>
<text x="616.0" y="320.5" font-size="9" fill="#c8c8c8" text-anchor="start" font-style="italic">62</text>
<text x="616.0" y="343.5" font-size="9" fill="#c8c8c8" text-anchor="start" font-style="italic">63</text>
<text x="905.0" y="318.5" font-size="9" fill="#c8c8c8" text-anchor="start" font-style="italic">67</text>
<text x="905.0" y="343.5" font-size="9" fill="#c8c8c8" text-anchor="start" font-style="italic">68</text>
<text x="656.0" y="281.5" font-size="9" fill="#c8c8c8" text-anchor="start" font-style="italic">55</text>
<text x="698.0" y="279.5" font-size="9" fill="#c8c8c8" text-anchor="start" font-style="italic">b</text>
<text x="706.0" y="215.5" font-size="9" fill="#c8c8c8" text-anchor="start" font-style="italic">47</text>
<text x="744.0" y="278.5" font-size="9" fill="#c8c8c8" text-anchor="start" font-style="italic">c</text>
</g>
<g id="er">
<rect x="838" y="380" width="73" height="59" rx="6" fill="#000"/>
<text x="852.0" y="387.5" font-size="7.5" fill="#e0e0e0" text-anchor="start" font-style="italic" font-weight="bold">ERRATA</text>
<text x="884.0" y="387.5" font-size="6.5" fill="#e0e0e0" text-anchor="start" font-style="italic" font-weight="bold">to</text>
<circle cx="843.0" cy="384.5" r="0.8" fill="#ccc"/>
<rect x="851.5" y="391.0" width="46.5" height="36.0" rx="0" fill="#fff" stroke="#fff" stroke-width="1"/>
<rect x="853.2" y="393.0" width="9.3" height="32.0" rx="0" fill="#000" stroke="none" stroke-width="1.8"/><rect x="853.2" y="410.0" width="9.3" height="2.2" rx="0" fill="#bbb" stroke="none" stroke-width="1.8"/><circle cx="857.9" cy="420.0" r="1" fill="#eee"/>
<rect x="864.4" y="393.0" width="9.3" height="32.0" rx="0" fill="#000" stroke="none" stroke-width="1.8"/><rect x="864.4" y="410.0" width="9.3" height="2.2" rx="0" fill="#bbb" stroke="none" stroke-width="1.8"/><circle cx="869.1" cy="420.0" r="1" fill="#eee"/>
<rect x="875.6" y="393.0" width="9.3" height="32.0" rx="0" fill="#000" stroke="none" stroke-width="1.8"/><rect x="875.6" y="410.0" width="9.3" height="2.2" rx="0" fill="#bbb" stroke="none" stroke-width="1.8"/><circle cx="880.2" cy="420.0" r="1" fill="#eee"/>
<rect x="886.8" y="393.0" width="9.3" height="32.0" rx="0" fill="#000" stroke="none" stroke-width="1.8"/><rect x="886.8" y="410.0" width="9.3" height="2.2" rx="0" fill="#bbb" stroke="none" stroke-width="1.8"/><circle cx="891.5" cy="420.0" r="1" fill="#eee"/>
<text x="840.0" y="402.5" font-size="8.5" fill="#ccc" text-anchor="start" font-style="italic" font-weight="bold">53</text>
<text x="841.0" y="437.5" font-size="11" fill="#e8e8e8" text-anchor="start" font-style="italic">ABER</text>
<text x="874.5" y="437.0" font-size="9" fill="#e0e0e0" text-anchor="start" font-style="italic" font-weight="bold">16190</text>
<circle cx="907.0" cy="434.0" r="0.8" fill="#ccc"/>
</g>
<g id="rod">
<path d="M123,472.5 L300,470.5 L426,469 L438,467.3 L479,466.6 L484,466 L490,466 Q493,466 493,469 L493,477 Q493,480.4 490,480.4 L484,480.4 L426,479.3 L300,478.4 L123,478.6 Q120,478.6 120,475.5 Q120,472.5 123,472.5 Z" fill="#ffff00" stroke="#c4b000" stroke-width="0.8"/>
<path d="M493,469.2 L502,469.2 Q505.6,469.2 505.6,473.2 Q505.6,477.2 502,477.2 L493,477.2 Z" fill="#ffff00" stroke="#c4b000" stroke-width="0.8"/>
</g>
<g id="paddle">
<path d="M526,447.3 L560,454 L600,461.5 L647,470 L690,478 Q697,480.5 697.5,484.5 Q696,488.5 688,489 L670,487.8 L647,483.6 L620,473.5 L600,469 L560,460.5 L526,454.8 Z" fill="#f6b676" stroke="#b8845a" stroke-width="0.9"/>
<ellipse cx="520.5" cy="448.5" rx="7.3" ry="6" fill="#f0b070" stroke="#b8845a" stroke-width="0.9"/>
<g stroke="#a06a40" stroke-width="0.8" fill="none" opacity="0.75">
<path d="M532,450 L600,464"/><path d="M540,453 L580,460"/><path d="M560,457.5 L640,474"/><path d="M600,466 L660,478"/><path d="M625,474 L685,484"/><path d="M515,446 L524,450"/><path d="M517,451 L525,449"/>
</g>
<path d="M542,451 L552,453" stroke="#604020" stroke-width="1.6"/>
<path d="M585,465 L595,467" stroke="#604020" stroke-width="1.2"/>
</g>
<g id="plank">
<path d="M647.4,399.8 L751.7,419.4 L755.3,425 L741.2,434.1 L634.1,413.1 L632,406.8 Z" fill="#f2b274" stroke="#a87a52" stroke-width="0.9"/>
<path d="M632,406.8 L740,427.5 L751.7,419.4 M740,427.5 L741.2,434.1" fill="none" stroke="#a87a52" stroke-width="0.8"/>
<g stroke="#9a6a44" stroke-width="0.8" fill="none" opacity="0.8">
<path d="M640,405 L700,416"/><path d="M650,402.5 L745,421"/><path d="M660,409 L730,422"/><path d="M640,411 L700,423.5"/><path d="M700,426 L740,432"/><path d="M680,410 L690,412"/>
</g>
<path d="M685,411 L695,413" stroke="#5a4030" stroke-width="1.5"/>
<path d="M705,417 L712,418.5" stroke="#5a4030" stroke-width="1.3"/>
</g>
<g id="pawns" stroke="#a09000" stroke-width="0.7">
<g><path d="M775.5,492.8 C775.5,488.3 778.8,483.3 784.8,483.3 C790.8,483.3 794.0,488.3 794.0,492.8 Q794.0,496.8 784.8,496.8 Q775.5,496.8 775.5,492.8 Z" fill="#f0ee00"/><path d="M776.3,493.3 Q784.8,495.3 793.2,493.3" fill="none" stroke="#b0a000" stroke-width="0.8"/><rect x="782.4" y="467.7" width="4.8" height="18.1" rx="1.5" fill="#eee800"/><ellipse cx="784.8" cy="475.7" rx="3.5" ry="1.7" fill="#e0d800"/><ellipse cx="784.8" cy="468.7" rx="2.7" ry="1.9" fill="#f0ee00"/><ellipse cx="784.8" cy="485.3" rx="3.6" ry="1.6" fill="#f0ee00"/></g>
<g><path d="M810.1,490.3 C810.1,485.5 813.0,480.5 819.0,480.5 C825.0,480.5 827.9,485.5 827.9,490.3 Q827.9,494.3 819.0,494.3 Q810.1,494.3 810.1,490.3 Z" fill="#f0ee00"/><path d="M810.9,490.8 Q819.0,492.8 827.1,490.8" fill="none" stroke="#b0a000" stroke-width="0.8"/><rect x="816.6" y="464.9" width="4.8" height="18.1" rx="1.5" fill="#eee800"/><ellipse cx="819.0" cy="472.9" rx="3.5" ry="1.7" fill="#e0d800"/><ellipse cx="819.0" cy="465.9" rx="2.7" ry="1.9" fill="#f0ee00"/><ellipse cx="819.0" cy="482.5" rx="3.6" ry="1.6" fill="#f0ee00"/></g>
<g><path d="M844.3,490.7 C844.3,486.7 847.6,481.7 853.6,481.7 C859.6,481.7 862.9,486.7 862.9,490.7 Q862.9,494.7 853.6,494.7 Q844.3,494.7 844.3,490.7 Z" fill="#f0ee00"/><path d="M845.1,491.2 Q853.6,493.2 862.1,491.2" fill="none" stroke="#b0a000" stroke-width="0.8"/><rect x="851.2" y="466.0" width="4.8" height="18.2" rx="1.5" fill="#eee800"/><ellipse cx="853.6" cy="474.0" rx="3.5" ry="1.7" fill="#e0d800"/><ellipse cx="853.6" cy="467.0" rx="2.7" ry="1.9" fill="#f0ee00"/><ellipse cx="853.6" cy="483.7" rx="3.6" ry="1.6" fill="#f0ee00"/></g>
<g><path d="M879.1,488.6 C879.1,484.6 882.0,479.6 888.0,479.6 C894.0,479.6 896.9,484.6 896.9,488.6 Q896.9,492.6 888.0,492.6 Q879.1,492.6 879.1,488.6 Z" fill="#f0ee00"/><path d="M879.9,489.1 Q888.0,491.1 896.1,489.1" fill="none" stroke="#b0a000" stroke-width="0.8"/><rect x="885.6" y="463.8" width="4.8" height="18.3" rx="1.5" fill="#eee800"/><ellipse cx="888.0" cy="471.8" rx="3.5" ry="1.7" fill="#e0d800"/><ellipse cx="888.0" cy="464.8" rx="2.7" ry="1.9" fill="#f0ee00"/><ellipse cx="888.0" cy="481.6" rx="3.6" ry="1.6" fill="#f0ee00"/></g>
</g>
<g font-weight="bold" fill="#f01010" stroke="#2a2af0" stroke-width="2.1" paint-order="stroke" stroke-linejoin="round">
<text x="93.5" y="467" font-size="23">A</text>
<text x="585.5" y="462" font-size="23.2">B</text>
<text x="707.5" y="407.8" font-size="21.5">C</text>
<text x="747.5" y="488.4" font-size="23">D</text>
</g>
<g font-weight="bold" font-style="italic" font-size="23.5" fill="#111">
<text x="164.6" y="574">16 190</text>
<text x="254.7" y="574">German Light Tank, Pz.Kpfw.I, Ausf.A/B (Sd.Kfz.101)</text>
<text x="354.6" y="601">-Tool &amp; Equipment holders</text>
</g>
<text x="381" y="633" font-style="italic" font-size="23.5" fill="#222">(Takom, Dragon models)</text>
<g font-weight="bold" font-style="italic" fill="#fff" style="filter:drop-shadow(1.8px 2.2px 0.8px rgba(0,0,0,0.38))">
<text x="825" y="660" font-size="18.5" textLength="147" lengthAdjust="spacingAndGlyphs">distributed by</text>
<text x="817" y="694" font-size="29" textLength="158" lengthAdjust="spacingAndGlyphs">GLOW2B</text>
<rect x="917" y="696.5" width="48" height="1.2"/>
<text x="917" y="706" font-size="10.5" textLength="48" lengthAdjust="spacingAndGlyphs">germany</text>
</g>
</svg>
</body></html>
